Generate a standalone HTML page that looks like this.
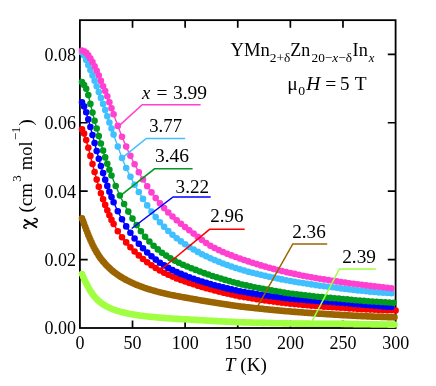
<!DOCTYPE html>
<html><head><meta charset="utf-8"><style>html,body{margin:0;padding:0;background:#fff}svg{display:block;will-change:transform;opacity:.999}text{font-family:"Liberation Serif",serif;fill:#000}</style></head><body>
<svg width="436" height="386" viewBox="0 0 436 386">
<rect width="436" height="386" fill="#fff"/>
<path d="M132.52 328.0 v-7.6 M132.52 20.15 v7.6 M185.13 328.0 v-7.6 M185.13 20.15 v7.6 M237.75 328.0 v-7.6 M237.75 20.15 v7.6 M290.37 328.0 v-7.6 M290.37 20.15 v7.6 M342.98 328.0 v-7.6 M342.98 20.15 v7.6 M79.9 259.59 h7.8 M395.6 259.59 h-7.8 M79.9 191.18 h7.8 M395.6 191.18 h-7.8 M79.9 122.77 h7.8 M395.6 122.77 h-7.8 M79.9 54.36 h7.8 M395.6 54.36 h-7.8" stroke="#000" stroke-width="1.7" fill="none"/>
<rect x="79.9" y="20.15" width="315.70" height="307.85" fill="none" stroke="#000" stroke-width="1.8"/>
<g fill="#a0ff40" stroke="#a0ff40"><path d="M82.0 274.1 L83.1 276.5 L84.1 278.9 L85.2 281.2 L86.2 283.4 L87.3 285.4 L88.3 287.4 L89.4 289.2 L90.4 291.0 L91.5 292.6 L92.5 294.1 L93.6 295.5 L94.6 296.8 L95.7 298.0 L96.7 299.1 L97.8 300.2 L98.8 301.1 L99.9 302.0 L100.9 302.8 L102.0 303.6 L103.1 304.3 L104.1 305.0 L105.2 305.6 L106.2 306.2 L107.3 306.8 L108.3 307.3 L109.4 307.8 L110.4 308.3 L111.5 308.7 L112.5 309.2 L113.6 309.6 L114.6 309.9 L115.7 310.3 L116.7 310.7 L117.8 311.0 L118.8 311.3 L119.9 311.6 L120.9 311.9 L122.0 312.2 L123.0 312.4 L124.1 312.7 L125.2 312.9 L126.2 313.2 L127.3 313.4 L128.3 313.6 L129.4 313.8 L130.4 314.0 L131.5 314.2 L132.5 314.4 L133.6 314.6 L134.6 314.8 L135.7 314.9 L136.7 315.1 L137.8 315.3 L138.8 315.4 L139.9 315.6 L140.9 315.7 L142.0 315.8 L143.0 316.0 L144.1 316.1 L145.1 316.2 L146.2 316.3 L147.2 316.5 L148.3 316.6 L149.4 316.7 L150.4 316.8 L151.5 316.9 L152.5 317.0 L153.6 317.1 L154.6 317.2 L155.7 317.3 L156.7 317.4 L157.8 317.5 L158.8 317.6 L159.9 317.7 L160.9 317.8 L162.0 317.8 L163.0 317.9 L164.1 318.0 L165.1 318.1 L166.2 318.2 L167.2 318.2 L168.3 318.3 L169.3 318.4 L170.4 318.5 L171.5 318.5 L172.5 318.6 L173.6 318.7 L174.6 318.7 L175.7 318.8 L176.7 318.9 L177.8 318.9 L178.8 319.0 L179.9 319.0 L180.9 319.1 L182.0 319.2 L183.0 319.2 L184.1 319.3 L185.1 319.3 L186.2 319.4 L187.2 319.4 L188.3 319.5 L189.3 319.5 L190.4 319.6 L191.4 319.7 L192.5 319.7 L193.6 319.8 L194.6 319.9 L195.7 319.9 L196.7 320.0 L197.8 320.1 L198.8 320.1 L199.9 320.2 L200.9 320.3 L202.0 320.3 L203.0 320.4 L204.1 320.4 L205.1 320.5 L206.2 320.6 L207.2 320.6 L208.3 320.7 L209.3 320.7 L210.4 320.8 L211.4 320.9 L212.5 320.9 L213.5 321.0 L214.6 321.0 L215.7 321.1 L216.7 321.1 L217.8 321.2 L218.8 321.3 L219.9 321.3 L220.9 321.4 L222.0 321.4 L223.0 321.5 L224.1 321.5 L225.1 321.6 L226.2 321.6 L227.2 321.7 L228.3 321.7 L229.3 321.8 L230.4 321.8 L231.4 321.9 L232.5 321.9 L233.5 322.0 L234.6 322.0 L235.6 322.1 L236.7 322.1 L237.8 322.2 L238.8 322.2 L239.9 322.3 L240.9 322.3 L242.0 322.3 L243.0 322.4 L244.1 322.4 L245.1 322.4 L246.2 322.5 L247.2 322.5 L248.3 322.5 L249.3 322.5 L250.4 322.6 L251.4 322.6 L252.5 322.6 L253.5 322.7 L254.6 322.7 L255.6 322.7 L256.7 322.7 L257.7 322.8 L258.8 322.8 L259.8 322.8 L260.9 322.8 L262.0 322.9 L263.0 322.9 L264.1 322.9 L265.1 322.9 L266.2 323.0 L267.2 323.0 L268.3 323.0 L269.3 323.0 L270.4 323.1 L271.4 323.1 L272.5 323.1 L273.5 323.1 L274.6 323.2 L275.6 323.2 L276.7 323.2 L277.7 323.2 L278.8 323.3 L279.8 323.3 L280.9 323.3 L281.9 323.3 L283.0 323.4 L284.1 323.4 L285.1 323.4 L286.2 323.4 L287.2 323.4 L288.3 323.5 L289.3 323.5 L290.4 323.5 L291.4 323.5 L292.5 323.5 L293.5 323.5 L294.6 323.5 L295.6 323.6 L296.7 323.6 L297.7 323.6 L298.8 323.6 L299.8 323.6 L300.9 323.6 L301.9 323.6 L303.0 323.6 L304.0 323.6 L305.1 323.6 L306.2 323.6 L307.2 323.6 L308.3 323.6 L309.3 323.6 L310.4 323.7 L311.4 323.7 L312.5 323.7 L313.5 323.7 L314.6 323.7 L315.6 323.7 L316.7 323.7 L317.7 323.7 L318.8 323.7 L319.8 323.7 L320.9 323.7 L321.9 323.7 L323.0 323.7 L324.0 323.7 L325.1 323.7 L326.1 323.7 L327.2 323.7 L328.3 323.8 L329.3 323.8 L330.4 323.8 L331.4 323.8 L332.5 323.8 L333.5 323.8 L334.6 323.8 L335.6 323.8 L336.7 323.8 L337.7 323.8 L338.8 323.8 L339.8 323.8 L340.9 323.8 L341.9 323.9 L343.0 323.9 L344.0 323.9 L345.1 323.9 L346.1 323.9 L347.2 323.9 L348.2 324.0 L349.3 324.0 L350.3 324.0 L351.4 324.0 L352.5 324.0 L353.5 324.1 L354.6 324.1 L355.6 324.1 L356.7 324.1 L357.7 324.1 L358.8 324.1 L359.8 324.2 L360.9 324.2 L361.9 324.2 L363.0 324.2 L364.0 324.2 L365.1 324.3 L366.1 324.3 L367.2 324.3 L368.2 324.3 L369.3 324.3 L370.3 324.3 L371.4 324.4 L372.4 324.4 L373.5 324.4 L374.6 324.4 L375.6 324.4 L376.7 324.4 L377.7 324.4 L378.8 324.4 L379.8 324.5 L380.9 324.5 L381.9 324.5 L383.0 324.5 L384.0 324.5 L385.1 324.5 L386.1 324.5 L387.2 324.5 L388.2 324.6 L389.3 324.6 L390.3 324.6 L391.4 324.6 L392.4 324.6 L393.5 324.6 L394.5 324.6" fill="none" stroke-width="1.4"/>
<path d="M78.7 274.1a3.3 3.3 0 1 0 6.6 0a3.3 3.3 0 1 0 -6.6 0zM79.8 276.5a3.3 3.3 0 1 0 6.6 0a3.3 3.3 0 1 0 -6.6 0zM80.8 278.9a3.3 3.3 0 1 0 6.6 0a3.3 3.3 0 1 0 -6.6 0zM81.9 281.2a3.3 3.3 0 1 0 6.6 0a3.3 3.3 0 1 0 -6.6 0zM82.9 283.4a3.3 3.3 0 1 0 6.6 0a3.3 3.3 0 1 0 -6.6 0zM84.0 285.4a3.3 3.3 0 1 0 6.6 0a3.3 3.3 0 1 0 -6.6 0zM85.0 287.4a3.3 3.3 0 1 0 6.6 0a3.3 3.3 0 1 0 -6.6 0zM86.1 289.2a3.3 3.3 0 1 0 6.6 0a3.3 3.3 0 1 0 -6.6 0zM87.1 291.0a3.3 3.3 0 1 0 6.6 0a3.3 3.3 0 1 0 -6.6 0zM88.2 292.6a3.3 3.3 0 1 0 6.6 0a3.3 3.3 0 1 0 -6.6 0zM89.2 294.1a3.3 3.3 0 1 0 6.6 0a3.3 3.3 0 1 0 -6.6 0zM90.3 295.5a3.3 3.3 0 1 0 6.6 0a3.3 3.3 0 1 0 -6.6 0zM91.3 296.8a3.3 3.3 0 1 0 6.6 0a3.3 3.3 0 1 0 -6.6 0zM92.4 298.0a3.3 3.3 0 1 0 6.6 0a3.3 3.3 0 1 0 -6.6 0zM93.4 299.1a3.3 3.3 0 1 0 6.6 0a3.3 3.3 0 1 0 -6.6 0zM94.5 300.2a3.3 3.3 0 1 0 6.6 0a3.3 3.3 0 1 0 -6.6 0zM95.5 301.1a3.3 3.3 0 1 0 6.6 0a3.3 3.3 0 1 0 -6.6 0zM96.6 302.0a3.3 3.3 0 1 0 6.6 0a3.3 3.3 0 1 0 -6.6 0zM97.6 302.8a3.3 3.3 0 1 0 6.6 0a3.3 3.3 0 1 0 -6.6 0zM98.7 303.6a3.3 3.3 0 1 0 6.6 0a3.3 3.3 0 1 0 -6.6 0zM99.8 304.3a3.3 3.3 0 1 0 6.6 0a3.3 3.3 0 1 0 -6.6 0zM100.8 305.0a3.3 3.3 0 1 0 6.6 0a3.3 3.3 0 1 0 -6.6 0zM101.9 305.6a3.3 3.3 0 1 0 6.6 0a3.3 3.3 0 1 0 -6.6 0zM102.9 306.2a3.3 3.3 0 1 0 6.6 0a3.3 3.3 0 1 0 -6.6 0zM104.0 306.8a3.3 3.3 0 1 0 6.6 0a3.3 3.3 0 1 0 -6.6 0zM105.0 307.3a3.3 3.3 0 1 0 6.6 0a3.3 3.3 0 1 0 -6.6 0zM106.1 307.8a3.3 3.3 0 1 0 6.6 0a3.3 3.3 0 1 0 -6.6 0zM107.1 308.3a3.3 3.3 0 1 0 6.6 0a3.3 3.3 0 1 0 -6.6 0zM108.2 308.7a3.3 3.3 0 1 0 6.6 0a3.3 3.3 0 1 0 -6.6 0zM109.2 309.2a3.3 3.3 0 1 0 6.6 0a3.3 3.3 0 1 0 -6.6 0zM110.3 309.6a3.3 3.3 0 1 0 6.6 0a3.3 3.3 0 1 0 -6.6 0zM111.3 309.9a3.3 3.3 0 1 0 6.6 0a3.3 3.3 0 1 0 -6.6 0zM112.4 310.3a3.3 3.3 0 1 0 6.6 0a3.3 3.3 0 1 0 -6.6 0zM113.4 310.7a3.3 3.3 0 1 0 6.6 0a3.3 3.3 0 1 0 -6.6 0zM114.5 311.0a3.3 3.3 0 1 0 6.6 0a3.3 3.3 0 1 0 -6.6 0zM115.5 311.3a3.3 3.3 0 1 0 6.6 0a3.3 3.3 0 1 0 -6.6 0zM116.6 311.6a3.3 3.3 0 1 0 6.6 0a3.3 3.3 0 1 0 -6.6 0zM117.6 311.9a3.3 3.3 0 1 0 6.6 0a3.3 3.3 0 1 0 -6.6 0zM118.7 312.2a3.3 3.3 0 1 0 6.6 0a3.3 3.3 0 1 0 -6.6 0zM119.7 312.4a3.3 3.3 0 1 0 6.6 0a3.3 3.3 0 1 0 -6.6 0zM120.8 312.7a3.3 3.3 0 1 0 6.6 0a3.3 3.3 0 1 0 -6.6 0zM121.9 312.9a3.3 3.3 0 1 0 6.6 0a3.3 3.3 0 1 0 -6.6 0zM122.9 313.2a3.3 3.3 0 1 0 6.6 0a3.3 3.3 0 1 0 -6.6 0zM124.0 313.4a3.3 3.3 0 1 0 6.6 0a3.3 3.3 0 1 0 -6.6 0zM125.0 313.6a3.3 3.3 0 1 0 6.6 0a3.3 3.3 0 1 0 -6.6 0zM126.1 313.8a3.3 3.3 0 1 0 6.6 0a3.3 3.3 0 1 0 -6.6 0zM127.1 314.0a3.3 3.3 0 1 0 6.6 0a3.3 3.3 0 1 0 -6.6 0zM128.2 314.2a3.3 3.3 0 1 0 6.6 0a3.3 3.3 0 1 0 -6.6 0zM129.2 314.4a3.3 3.3 0 1 0 6.6 0a3.3 3.3 0 1 0 -6.6 0zM130.3 314.6a3.3 3.3 0 1 0 6.6 0a3.3 3.3 0 1 0 -6.6 0zM131.3 314.8a3.3 3.3 0 1 0 6.6 0a3.3 3.3 0 1 0 -6.6 0zM132.4 314.9a3.3 3.3 0 1 0 6.6 0a3.3 3.3 0 1 0 -6.6 0zM133.4 315.1a3.3 3.3 0 1 0 6.6 0a3.3 3.3 0 1 0 -6.6 0zM134.5 315.3a3.3 3.3 0 1 0 6.6 0a3.3 3.3 0 1 0 -6.6 0zM135.5 315.4a3.3 3.3 0 1 0 6.6 0a3.3 3.3 0 1 0 -6.6 0zM136.6 315.6a3.3 3.3 0 1 0 6.6 0a3.3 3.3 0 1 0 -6.6 0zM137.6 315.7a3.3 3.3 0 1 0 6.6 0a3.3 3.3 0 1 0 -6.6 0zM138.7 315.8a3.3 3.3 0 1 0 6.6 0a3.3 3.3 0 1 0 -6.6 0zM139.7 316.0a3.3 3.3 0 1 0 6.6 0a3.3 3.3 0 1 0 -6.6 0zM140.8 316.1a3.3 3.3 0 1 0 6.6 0a3.3 3.3 0 1 0 -6.6 0zM141.8 316.2a3.3 3.3 0 1 0 6.6 0a3.3 3.3 0 1 0 -6.6 0zM142.9 316.3a3.3 3.3 0 1 0 6.6 0a3.3 3.3 0 1 0 -6.6 0zM143.9 316.5a3.3 3.3 0 1 0 6.6 0a3.3 3.3 0 1 0 -6.6 0zM145.0 316.6a3.3 3.3 0 1 0 6.6 0a3.3 3.3 0 1 0 -6.6 0zM146.1 316.7a3.3 3.3 0 1 0 6.6 0a3.3 3.3 0 1 0 -6.6 0zM147.1 316.8a3.3 3.3 0 1 0 6.6 0a3.3 3.3 0 1 0 -6.6 0zM148.2 316.9a3.3 3.3 0 1 0 6.6 0a3.3 3.3 0 1 0 -6.6 0zM149.2 317.0a3.3 3.3 0 1 0 6.6 0a3.3 3.3 0 1 0 -6.6 0zM150.3 317.1a3.3 3.3 0 1 0 6.6 0a3.3 3.3 0 1 0 -6.6 0zM151.3 317.2a3.3 3.3 0 1 0 6.6 0a3.3 3.3 0 1 0 -6.6 0zM152.4 317.3a3.3 3.3 0 1 0 6.6 0a3.3 3.3 0 1 0 -6.6 0zM153.4 317.4a3.3 3.3 0 1 0 6.6 0a3.3 3.3 0 1 0 -6.6 0zM154.5 317.5a3.3 3.3 0 1 0 6.6 0a3.3 3.3 0 1 0 -6.6 0zM155.5 317.6a3.3 3.3 0 1 0 6.6 0a3.3 3.3 0 1 0 -6.6 0zM156.6 317.7a3.3 3.3 0 1 0 6.6 0a3.3 3.3 0 1 0 -6.6 0zM157.6 317.8a3.3 3.3 0 1 0 6.6 0a3.3 3.3 0 1 0 -6.6 0zM158.7 317.8a3.3 3.3 0 1 0 6.6 0a3.3 3.3 0 1 0 -6.6 0zM159.7 317.9a3.3 3.3 0 1 0 6.6 0a3.3 3.3 0 1 0 -6.6 0zM160.8 318.0a3.3 3.3 0 1 0 6.6 0a3.3 3.3 0 1 0 -6.6 0zM161.8 318.1a3.3 3.3 0 1 0 6.6 0a3.3 3.3 0 1 0 -6.6 0zM162.9 318.2a3.3 3.3 0 1 0 6.6 0a3.3 3.3 0 1 0 -6.6 0zM163.9 318.2a3.3 3.3 0 1 0 6.6 0a3.3 3.3 0 1 0 -6.6 0zM165.0 318.3a3.3 3.3 0 1 0 6.6 0a3.3 3.3 0 1 0 -6.6 0zM166.0 318.4a3.3 3.3 0 1 0 6.6 0a3.3 3.3 0 1 0 -6.6 0zM167.1 318.5a3.3 3.3 0 1 0 6.6 0a3.3 3.3 0 1 0 -6.6 0zM168.2 318.5a3.3 3.3 0 1 0 6.6 0a3.3 3.3 0 1 0 -6.6 0zM169.2 318.6a3.3 3.3 0 1 0 6.6 0a3.3 3.3 0 1 0 -6.6 0zM170.3 318.7a3.3 3.3 0 1 0 6.6 0a3.3 3.3 0 1 0 -6.6 0zM171.3 318.7a3.3 3.3 0 1 0 6.6 0a3.3 3.3 0 1 0 -6.6 0zM172.4 318.8a3.3 3.3 0 1 0 6.6 0a3.3 3.3 0 1 0 -6.6 0zM173.4 318.9a3.3 3.3 0 1 0 6.6 0a3.3 3.3 0 1 0 -6.6 0zM174.5 318.9a3.3 3.3 0 1 0 6.6 0a3.3 3.3 0 1 0 -6.6 0zM175.5 319.0a3.3 3.3 0 1 0 6.6 0a3.3 3.3 0 1 0 -6.6 0zM176.6 319.0a3.3 3.3 0 1 0 6.6 0a3.3 3.3 0 1 0 -6.6 0zM177.6 319.1a3.3 3.3 0 1 0 6.6 0a3.3 3.3 0 1 0 -6.6 0zM178.7 319.2a3.3 3.3 0 1 0 6.6 0a3.3 3.3 0 1 0 -6.6 0zM179.7 319.2a3.3 3.3 0 1 0 6.6 0a3.3 3.3 0 1 0 -6.6 0zM180.8 319.3a3.3 3.3 0 1 0 6.6 0a3.3 3.3 0 1 0 -6.6 0zM181.8 319.3a3.3 3.3 0 1 0 6.6 0a3.3 3.3 0 1 0 -6.6 0zM182.9 319.4a3.3 3.3 0 1 0 6.6 0a3.3 3.3 0 1 0 -6.6 0zM183.9 319.4a3.3 3.3 0 1 0 6.6 0a3.3 3.3 0 1 0 -6.6 0zM185.0 319.5a3.3 3.3 0 1 0 6.6 0a3.3 3.3 0 1 0 -6.6 0zM186.0 319.5a3.3 3.3 0 1 0 6.6 0a3.3 3.3 0 1 0 -6.6 0zM187.1 319.6a3.3 3.3 0 1 0 6.6 0a3.3 3.3 0 1 0 -6.6 0zM188.1 319.7a3.3 3.3 0 1 0 6.6 0a3.3 3.3 0 1 0 -6.6 0zM189.2 319.7a3.3 3.3 0 1 0 6.6 0a3.3 3.3 0 1 0 -6.6 0zM190.3 319.8a3.3 3.3 0 1 0 6.6 0a3.3 3.3 0 1 0 -6.6 0zM191.3 319.9a3.3 3.3 0 1 0 6.6 0a3.3 3.3 0 1 0 -6.6 0zM192.4 319.9a3.3 3.3 0 1 0 6.6 0a3.3 3.3 0 1 0 -6.6 0zM193.4 320.0a3.3 3.3 0 1 0 6.6 0a3.3 3.3 0 1 0 -6.6 0zM194.5 320.1a3.3 3.3 0 1 0 6.6 0a3.3 3.3 0 1 0 -6.6 0zM195.5 320.1a3.3 3.3 0 1 0 6.6 0a3.3 3.3 0 1 0 -6.6 0zM196.6 320.2a3.3 3.3 0 1 0 6.6 0a3.3 3.3 0 1 0 -6.6 0zM197.6 320.3a3.3 3.3 0 1 0 6.6 0a3.3 3.3 0 1 0 -6.6 0zM198.7 320.3a3.3 3.3 0 1 0 6.6 0a3.3 3.3 0 1 0 -6.6 0zM199.7 320.4a3.3 3.3 0 1 0 6.6 0a3.3 3.3 0 1 0 -6.6 0zM200.8 320.4a3.3 3.3 0 1 0 6.6 0a3.3 3.3 0 1 0 -6.6 0zM201.8 320.5a3.3 3.3 0 1 0 6.6 0a3.3 3.3 0 1 0 -6.6 0zM202.9 320.6a3.3 3.3 0 1 0 6.6 0a3.3 3.3 0 1 0 -6.6 0zM203.9 320.6a3.3 3.3 0 1 0 6.6 0a3.3 3.3 0 1 0 -6.6 0zM205.0 320.7a3.3 3.3 0 1 0 6.6 0a3.3 3.3 0 1 0 -6.6 0zM206.0 320.7a3.3 3.3 0 1 0 6.6 0a3.3 3.3 0 1 0 -6.6 0zM207.1 320.8a3.3 3.3 0 1 0 6.6 0a3.3 3.3 0 1 0 -6.6 0zM208.1 320.9a3.3 3.3 0 1 0 6.6 0a3.3 3.3 0 1 0 -6.6 0zM209.2 320.9a3.3 3.3 0 1 0 6.6 0a3.3 3.3 0 1 0 -6.6 0zM210.2 321.0a3.3 3.3 0 1 0 6.6 0a3.3 3.3 0 1 0 -6.6 0zM211.3 321.0a3.3 3.3 0 1 0 6.6 0a3.3 3.3 0 1 0 -6.6 0zM212.4 321.1a3.3 3.3 0 1 0 6.6 0a3.3 3.3 0 1 0 -6.6 0zM213.4 321.1a3.3 3.3 0 1 0 6.6 0a3.3 3.3 0 1 0 -6.6 0zM214.5 321.2a3.3 3.3 0 1 0 6.6 0a3.3 3.3 0 1 0 -6.6 0zM215.5 321.3a3.3 3.3 0 1 0 6.6 0a3.3 3.3 0 1 0 -6.6 0zM216.6 321.3a3.3 3.3 0 1 0 6.6 0a3.3 3.3 0 1 0 -6.6 0zM217.6 321.4a3.3 3.3 0 1 0 6.6 0a3.3 3.3 0 1 0 -6.6 0zM218.7 321.4a3.3 3.3 0 1 0 6.6 0a3.3 3.3 0 1 0 -6.6 0zM219.7 321.5a3.3 3.3 0 1 0 6.6 0a3.3 3.3 0 1 0 -6.6 0zM220.8 321.5a3.3 3.3 0 1 0 6.6 0a3.3 3.3 0 1 0 -6.6 0zM221.8 321.6a3.3 3.3 0 1 0 6.6 0a3.3 3.3 0 1 0 -6.6 0zM222.9 321.6a3.3 3.3 0 1 0 6.6 0a3.3 3.3 0 1 0 -6.6 0zM223.9 321.7a3.3 3.3 0 1 0 6.6 0a3.3 3.3 0 1 0 -6.6 0zM225.0 321.7a3.3 3.3 0 1 0 6.6 0a3.3 3.3 0 1 0 -6.6 0zM226.0 321.8a3.3 3.3 0 1 0 6.6 0a3.3 3.3 0 1 0 -6.6 0zM227.1 321.8a3.3 3.3 0 1 0 6.6 0a3.3 3.3 0 1 0 -6.6 0zM228.1 321.9a3.3 3.3 0 1 0 6.6 0a3.3 3.3 0 1 0 -6.6 0zM229.2 321.9a3.3 3.3 0 1 0 6.6 0a3.3 3.3 0 1 0 -6.6 0zM230.2 322.0a3.3 3.3 0 1 0 6.6 0a3.3 3.3 0 1 0 -6.6 0zM231.3 322.0a3.3 3.3 0 1 0 6.6 0a3.3 3.3 0 1 0 -6.6 0zM232.3 322.1a3.3 3.3 0 1 0 6.6 0a3.3 3.3 0 1 0 -6.6 0zM233.4 322.1a3.3 3.3 0 1 0 6.6 0a3.3 3.3 0 1 0 -6.6 0zM234.5 322.2a3.3 3.3 0 1 0 6.6 0a3.3 3.3 0 1 0 -6.6 0zM235.5 322.2a3.3 3.3 0 1 0 6.6 0a3.3 3.3 0 1 0 -6.6 0zM236.6 322.3a3.3 3.3 0 1 0 6.6 0a3.3 3.3 0 1 0 -6.6 0zM237.6 322.3a3.3 3.3 0 1 0 6.6 0a3.3 3.3 0 1 0 -6.6 0zM238.7 322.3a3.3 3.3 0 1 0 6.6 0a3.3 3.3 0 1 0 -6.6 0zM239.7 322.4a3.3 3.3 0 1 0 6.6 0a3.3 3.3 0 1 0 -6.6 0zM240.8 322.4a3.3 3.3 0 1 0 6.6 0a3.3 3.3 0 1 0 -6.6 0zM241.8 322.4a3.3 3.3 0 1 0 6.6 0a3.3 3.3 0 1 0 -6.6 0zM242.9 322.5a3.3 3.3 0 1 0 6.6 0a3.3 3.3 0 1 0 -6.6 0zM243.9 322.5a3.3 3.3 0 1 0 6.6 0a3.3 3.3 0 1 0 -6.6 0zM245.0 322.5a3.3 3.3 0 1 0 6.6 0a3.3 3.3 0 1 0 -6.6 0zM246.0 322.5a3.3 3.3 0 1 0 6.6 0a3.3 3.3 0 1 0 -6.6 0zM247.1 322.6a3.3 3.3 0 1 0 6.6 0a3.3 3.3 0 1 0 -6.6 0zM248.1 322.6a3.3 3.3 0 1 0 6.6 0a3.3 3.3 0 1 0 -6.6 0zM249.2 322.6a3.3 3.3 0 1 0 6.6 0a3.3 3.3 0 1 0 -6.6 0zM250.2 322.7a3.3 3.3 0 1 0 6.6 0a3.3 3.3 0 1 0 -6.6 0zM251.3 322.7a3.3 3.3 0 1 0 6.6 0a3.3 3.3 0 1 0 -6.6 0zM252.3 322.7a3.3 3.3 0 1 0 6.6 0a3.3 3.3 0 1 0 -6.6 0zM253.4 322.7a3.3 3.3 0 1 0 6.6 0a3.3 3.3 0 1 0 -6.6 0zM254.4 322.8a3.3 3.3 0 1 0 6.6 0a3.3 3.3 0 1 0 -6.6 0zM255.5 322.8a3.3 3.3 0 1 0 6.6 0a3.3 3.3 0 1 0 -6.6 0zM256.5 322.8a3.3 3.3 0 1 0 6.6 0a3.3 3.3 0 1 0 -6.6 0zM257.6 322.8a3.3 3.3 0 1 0 6.6 0a3.3 3.3 0 1 0 -6.6 0zM258.7 322.9a3.3 3.3 0 1 0 6.6 0a3.3 3.3 0 1 0 -6.6 0zM259.7 322.9a3.3 3.3 0 1 0 6.6 0a3.3 3.3 0 1 0 -6.6 0zM260.8 322.9a3.3 3.3 0 1 0 6.6 0a3.3 3.3 0 1 0 -6.6 0zM261.8 322.9a3.3 3.3 0 1 0 6.6 0a3.3 3.3 0 1 0 -6.6 0zM262.9 323.0a3.3 3.3 0 1 0 6.6 0a3.3 3.3 0 1 0 -6.6 0zM263.9 323.0a3.3 3.3 0 1 0 6.6 0a3.3 3.3 0 1 0 -6.6 0zM265.0 323.0a3.3 3.3 0 1 0 6.6 0a3.3 3.3 0 1 0 -6.6 0zM266.0 323.0a3.3 3.3 0 1 0 6.6 0a3.3 3.3 0 1 0 -6.6 0zM267.1 323.1a3.3 3.3 0 1 0 6.6 0a3.3 3.3 0 1 0 -6.6 0zM268.1 323.1a3.3 3.3 0 1 0 6.6 0a3.3 3.3 0 1 0 -6.6 0zM269.2 323.1a3.3 3.3 0 1 0 6.6 0a3.3 3.3 0 1 0 -6.6 0zM270.2 323.1a3.3 3.3 0 1 0 6.6 0a3.3 3.3 0 1 0 -6.6 0zM271.3 323.2a3.3 3.3 0 1 0 6.6 0a3.3 3.3 0 1 0 -6.6 0zM272.3 323.2a3.3 3.3 0 1 0 6.6 0a3.3 3.3 0 1 0 -6.6 0zM273.4 323.2a3.3 3.3 0 1 0 6.6 0a3.3 3.3 0 1 0 -6.6 0zM274.4 323.2a3.3 3.3 0 1 0 6.6 0a3.3 3.3 0 1 0 -6.6 0zM275.5 323.3a3.3 3.3 0 1 0 6.6 0a3.3 3.3 0 1 0 -6.6 0zM276.5 323.3a3.3 3.3 0 1 0 6.6 0a3.3 3.3 0 1 0 -6.6 0zM277.6 323.3a3.3 3.3 0 1 0 6.6 0a3.3 3.3 0 1 0 -6.6 0zM278.6 323.3a3.3 3.3 0 1 0 6.6 0a3.3 3.3 0 1 0 -6.6 0zM279.7 323.4a3.3 3.3 0 1 0 6.6 0a3.3 3.3 0 1 0 -6.6 0zM280.8 323.4a3.3 3.3 0 1 0 6.6 0a3.3 3.3 0 1 0 -6.6 0zM281.8 323.4a3.3 3.3 0 1 0 6.6 0a3.3 3.3 0 1 0 -6.6 0zM282.9 323.4a3.3 3.3 0 1 0 6.6 0a3.3 3.3 0 1 0 -6.6 0zM283.9 323.4a3.3 3.3 0 1 0 6.6 0a3.3 3.3 0 1 0 -6.6 0zM285.0 323.5a3.3 3.3 0 1 0 6.6 0a3.3 3.3 0 1 0 -6.6 0zM286.0 323.5a3.3 3.3 0 1 0 6.6 0a3.3 3.3 0 1 0 -6.6 0zM287.1 323.5a3.3 3.3 0 1 0 6.6 0a3.3 3.3 0 1 0 -6.6 0zM288.1 323.5a3.3 3.3 0 1 0 6.6 0a3.3 3.3 0 1 0 -6.6 0zM289.2 323.5a3.3 3.3 0 1 0 6.6 0a3.3 3.3 0 1 0 -6.6 0zM290.2 323.5a3.3 3.3 0 1 0 6.6 0a3.3 3.3 0 1 0 -6.6 0zM291.3 323.5a3.3 3.3 0 1 0 6.6 0a3.3 3.3 0 1 0 -6.6 0zM292.3 323.6a3.3 3.3 0 1 0 6.6 0a3.3 3.3 0 1 0 -6.6 0zM293.4 323.6a3.3 3.3 0 1 0 6.6 0a3.3 3.3 0 1 0 -6.6 0zM294.4 323.6a3.3 3.3 0 1 0 6.6 0a3.3 3.3 0 1 0 -6.6 0zM295.5 323.6a3.3 3.3 0 1 0 6.6 0a3.3 3.3 0 1 0 -6.6 0zM296.5 323.6a3.3 3.3 0 1 0 6.6 0a3.3 3.3 0 1 0 -6.6 0zM297.6 323.6a3.3 3.3 0 1 0 6.6 0a3.3 3.3 0 1 0 -6.6 0zM298.6 323.6a3.3 3.3 0 1 0 6.6 0a3.3 3.3 0 1 0 -6.6 0zM299.7 323.6a3.3 3.3 0 1 0 6.6 0a3.3 3.3 0 1 0 -6.6 0zM300.7 323.6a3.3 3.3 0 1 0 6.6 0a3.3 3.3 0 1 0 -6.6 0zM301.8 323.6a3.3 3.3 0 1 0 6.6 0a3.3 3.3 0 1 0 -6.6 0zM302.9 323.6a3.3 3.3 0 1 0 6.6 0a3.3 3.3 0 1 0 -6.6 0zM303.9 323.6a3.3 3.3 0 1 0 6.6 0a3.3 3.3 0 1 0 -6.6 0zM305.0 323.6a3.3 3.3 0 1 0 6.6 0a3.3 3.3 0 1 0 -6.6 0zM306.0 323.6a3.3 3.3 0 1 0 6.6 0a3.3 3.3 0 1 0 -6.6 0zM307.1 323.7a3.3 3.3 0 1 0 6.6 0a3.3 3.3 0 1 0 -6.6 0zM308.1 323.7a3.3 3.3 0 1 0 6.6 0a3.3 3.3 0 1 0 -6.6 0zM309.2 323.7a3.3 3.3 0 1 0 6.6 0a3.3 3.3 0 1 0 -6.6 0zM310.2 323.7a3.3 3.3 0 1 0 6.6 0a3.3 3.3 0 1 0 -6.6 0zM311.3 323.7a3.3 3.3 0 1 0 6.6 0a3.3 3.3 0 1 0 -6.6 0zM312.3 323.7a3.3 3.3 0 1 0 6.6 0a3.3 3.3 0 1 0 -6.6 0zM313.4 323.7a3.3 3.3 0 1 0 6.6 0a3.3 3.3 0 1 0 -6.6 0zM314.4 323.7a3.3 3.3 0 1 0 6.6 0a3.3 3.3 0 1 0 -6.6 0zM315.5 323.7a3.3 3.3 0 1 0 6.6 0a3.3 3.3 0 1 0 -6.6 0zM316.5 323.7a3.3 3.3 0 1 0 6.6 0a3.3 3.3 0 1 0 -6.6 0zM317.6 323.7a3.3 3.3 0 1 0 6.6 0a3.3 3.3 0 1 0 -6.6 0zM318.6 323.7a3.3 3.3 0 1 0 6.6 0a3.3 3.3 0 1 0 -6.6 0zM319.7 323.7a3.3 3.3 0 1 0 6.6 0a3.3 3.3 0 1 0 -6.6 0zM320.7 323.7a3.3 3.3 0 1 0 6.6 0a3.3 3.3 0 1 0 -6.6 0zM321.8 323.7a3.3 3.3 0 1 0 6.6 0a3.3 3.3 0 1 0 -6.6 0zM322.8 323.7a3.3 3.3 0 1 0 6.6 0a3.3 3.3 0 1 0 -6.6 0zM323.9 323.7a3.3 3.3 0 1 0 6.6 0a3.3 3.3 0 1 0 -6.6 0zM325.0 323.8a3.3 3.3 0 1 0 6.6 0a3.3 3.3 0 1 0 -6.6 0zM326.0 323.8a3.3 3.3 0 1 0 6.6 0a3.3 3.3 0 1 0 -6.6 0zM327.1 323.8a3.3 3.3 0 1 0 6.6 0a3.3 3.3 0 1 0 -6.6 0zM328.1 323.8a3.3 3.3 0 1 0 6.6 0a3.3 3.3 0 1 0 -6.6 0zM329.2 323.8a3.3 3.3 0 1 0 6.6 0a3.3 3.3 0 1 0 -6.6 0zM330.2 323.8a3.3 3.3 0 1 0 6.6 0a3.3 3.3 0 1 0 -6.6 0zM331.3 323.8a3.3 3.3 0 1 0 6.6 0a3.3 3.3 0 1 0 -6.6 0zM332.3 323.8a3.3 3.3 0 1 0 6.6 0a3.3 3.3 0 1 0 -6.6 0zM333.4 323.8a3.3 3.3 0 1 0 6.6 0a3.3 3.3 0 1 0 -6.6 0zM334.4 323.8a3.3 3.3 0 1 0 6.6 0a3.3 3.3 0 1 0 -6.6 0zM335.5 323.8a3.3 3.3 0 1 0 6.6 0a3.3 3.3 0 1 0 -6.6 0zM336.5 323.8a3.3 3.3 0 1 0 6.6 0a3.3 3.3 0 1 0 -6.6 0zM337.6 323.8a3.3 3.3 0 1 0 6.6 0a3.3 3.3 0 1 0 -6.6 0zM338.6 323.9a3.3 3.3 0 1 0 6.6 0a3.3 3.3 0 1 0 -6.6 0zM339.7 323.9a3.3 3.3 0 1 0 6.6 0a3.3 3.3 0 1 0 -6.6 0zM340.7 323.9a3.3 3.3 0 1 0 6.6 0a3.3 3.3 0 1 0 -6.6 0zM341.8 323.9a3.3 3.3 0 1 0 6.6 0a3.3 3.3 0 1 0 -6.6 0zM342.8 323.9a3.3 3.3 0 1 0 6.6 0a3.3 3.3 0 1 0 -6.6 0zM343.9 323.9a3.3 3.3 0 1 0 6.6 0a3.3 3.3 0 1 0 -6.6 0zM344.9 324.0a3.3 3.3 0 1 0 6.6 0a3.3 3.3 0 1 0 -6.6 0zM346.0 324.0a3.3 3.3 0 1 0 6.6 0a3.3 3.3 0 1 0 -6.6 0zM347.0 324.0a3.3 3.3 0 1 0 6.6 0a3.3 3.3 0 1 0 -6.6 0zM348.1 324.0a3.3 3.3 0 1 0 6.6 0a3.3 3.3 0 1 0 -6.6 0zM349.2 324.0a3.3 3.3 0 1 0 6.6 0a3.3 3.3 0 1 0 -6.6 0zM350.2 324.1a3.3 3.3 0 1 0 6.6 0a3.3 3.3 0 1 0 -6.6 0zM351.3 324.1a3.3 3.3 0 1 0 6.6 0a3.3 3.3 0 1 0 -6.6 0zM352.3 324.1a3.3 3.3 0 1 0 6.6 0a3.3 3.3 0 1 0 -6.6 0zM353.4 324.1a3.3 3.3 0 1 0 6.6 0a3.3 3.3 0 1 0 -6.6 0zM354.4 324.1a3.3 3.3 0 1 0 6.6 0a3.3 3.3 0 1 0 -6.6 0zM355.5 324.1a3.3 3.3 0 1 0 6.6 0a3.3 3.3 0 1 0 -6.6 0zM356.5 324.2a3.3 3.3 0 1 0 6.6 0a3.3 3.3 0 1 0 -6.6 0zM357.6 324.2a3.3 3.3 0 1 0 6.6 0a3.3 3.3 0 1 0 -6.6 0zM358.6 324.2a3.3 3.3 0 1 0 6.6 0a3.3 3.3 0 1 0 -6.6 0zM359.7 324.2a3.3 3.3 0 1 0 6.6 0a3.3 3.3 0 1 0 -6.6 0zM360.7 324.2a3.3 3.3 0 1 0 6.6 0a3.3 3.3 0 1 0 -6.6 0zM361.8 324.3a3.3 3.3 0 1 0 6.6 0a3.3 3.3 0 1 0 -6.6 0zM362.8 324.3a3.3 3.3 0 1 0 6.6 0a3.3 3.3 0 1 0 -6.6 0zM363.9 324.3a3.3 3.3 0 1 0 6.6 0a3.3 3.3 0 1 0 -6.6 0zM364.9 324.3a3.3 3.3 0 1 0 6.6 0a3.3 3.3 0 1 0 -6.6 0zM366.0 324.3a3.3 3.3 0 1 0 6.6 0a3.3 3.3 0 1 0 -6.6 0zM367.0 324.3a3.3 3.3 0 1 0 6.6 0a3.3 3.3 0 1 0 -6.6 0zM368.1 324.4a3.3 3.3 0 1 0 6.6 0a3.3 3.3 0 1 0 -6.6 0zM369.1 324.4a3.3 3.3 0 1 0 6.6 0a3.3 3.3 0 1 0 -6.6 0zM370.2 324.4a3.3 3.3 0 1 0 6.6 0a3.3 3.3 0 1 0 -6.6 0zM371.3 324.4a3.3 3.3 0 1 0 6.6 0a3.3 3.3 0 1 0 -6.6 0zM372.3 324.4a3.3 3.3 0 1 0 6.6 0a3.3 3.3 0 1 0 -6.6 0zM373.4 324.4a3.3 3.3 0 1 0 6.6 0a3.3 3.3 0 1 0 -6.6 0zM374.4 324.4a3.3 3.3 0 1 0 6.6 0a3.3 3.3 0 1 0 -6.6 0zM375.5 324.4a3.3 3.3 0 1 0 6.6 0a3.3 3.3 0 1 0 -6.6 0zM376.5 324.5a3.3 3.3 0 1 0 6.6 0a3.3 3.3 0 1 0 -6.6 0zM377.6 324.5a3.3 3.3 0 1 0 6.6 0a3.3 3.3 0 1 0 -6.6 0zM378.6 324.5a3.3 3.3 0 1 0 6.6 0a3.3 3.3 0 1 0 -6.6 0zM379.7 324.5a3.3 3.3 0 1 0 6.6 0a3.3 3.3 0 1 0 -6.6 0zM380.7 324.5a3.3 3.3 0 1 0 6.6 0a3.3 3.3 0 1 0 -6.6 0zM381.8 324.5a3.3 3.3 0 1 0 6.6 0a3.3 3.3 0 1 0 -6.6 0zM382.8 324.5a3.3 3.3 0 1 0 6.6 0a3.3 3.3 0 1 0 -6.6 0zM383.9 324.5a3.3 3.3 0 1 0 6.6 0a3.3 3.3 0 1 0 -6.6 0zM384.9 324.6a3.3 3.3 0 1 0 6.6 0a3.3 3.3 0 1 0 -6.6 0zM386.0 324.6a3.3 3.3 0 1 0 6.6 0a3.3 3.3 0 1 0 -6.6 0zM387.0 324.6a3.3 3.3 0 1 0 6.6 0a3.3 3.3 0 1 0 -6.6 0zM388.1 324.6a3.3 3.3 0 1 0 6.6 0a3.3 3.3 0 1 0 -6.6 0zM389.1 324.6a3.3 3.3 0 1 0 6.6 0a3.3 3.3 0 1 0 -6.6 0zM390.2 324.6a3.3 3.3 0 1 0 6.6 0a3.3 3.3 0 1 0 -6.6 0zM391.2 324.6a3.3 3.3 0 1 0 6.6 0a3.3 3.3 0 1 0 -6.6 0z" stroke="none"/></g>
<g fill="#9a6400" stroke="#9a6400"><path d="M82.0 218.4 L83.1 221.1 L84.1 223.9 L85.2 226.7 L86.2 229.5 L87.3 232.2 L88.3 234.9 L89.4 237.5 L90.4 239.9 L91.5 242.3 L92.5 244.6 L93.6 246.7 L94.6 248.7 L95.7 250.6 L96.7 252.4 L97.8 254.1 L98.8 255.7 L99.9 257.3 L100.9 258.7 L102.0 260.1 L103.1 261.4 L104.1 262.6 L105.2 263.8 L106.2 265.0 L107.3 266.0 L108.3 267.1 L109.4 268.1 L110.4 269.0 L111.5 270.0 L112.5 270.9 L113.6 271.7 L114.6 272.5 L115.7 273.3 L116.7 274.1 L117.8 274.8 L118.8 275.6 L119.9 276.3 L120.9 276.9 L122.0 277.6 L123.0 278.2 L124.1 278.8 L125.2 279.4 L126.2 280.0 L127.3 280.5 L128.3 281.1 L129.4 281.6 L130.4 282.1 L131.5 282.6 L132.5 283.1 L133.6 283.6 L134.6 284.0 L135.7 284.5 L136.7 284.9 L137.8 285.3 L138.8 285.7 L139.9 286.1 L140.9 286.5 L142.0 286.9 L143.0 287.3 L144.1 287.7 L145.1 288.0 L146.2 288.4 L147.2 288.7 L148.3 289.1 L149.4 289.4 L150.4 289.7 L151.5 290.0 L152.5 290.3 L153.6 290.6 L154.6 290.9 L155.7 291.2 L156.7 291.5 L157.8 291.8 L158.8 292.1 L159.9 292.3 L160.9 292.6 L162.0 292.8 L163.0 293.1 L164.1 293.3 L165.1 293.6 L166.2 293.8 L167.2 294.1 L168.3 294.3 L169.3 294.5 L170.4 294.7 L171.5 295.0 L172.5 295.2 L173.6 295.4 L174.6 295.6 L175.7 295.8 L176.7 296.0 L177.8 296.2 L178.8 296.4 L179.9 296.6 L180.9 296.8 L182.0 297.0 L183.0 297.2 L184.1 297.4 L185.1 297.6 L186.2 297.7 L187.2 297.9 L188.3 298.1 L189.3 298.3 L190.4 298.5 L191.4 298.7 L192.5 298.9 L193.6 299.1 L194.6 299.2 L195.7 299.4 L196.7 299.6 L197.8 299.8 L198.8 300.0 L199.9 300.2 L200.9 300.4 L202.0 300.6 L203.0 300.7 L204.1 300.9 L205.1 301.1 L206.2 301.3 L207.2 301.4 L208.3 301.6 L209.3 301.8 L210.4 302.0 L211.4 302.1 L212.5 302.3 L213.5 302.5 L214.6 302.6 L215.7 302.8 L216.7 303.0 L217.8 303.1 L218.8 303.3 L219.9 303.5 L220.9 303.6 L222.0 303.8 L223.0 304.0 L224.1 304.1 L225.1 304.3 L226.2 304.4 L227.2 304.6 L228.3 304.8 L229.3 304.9 L230.4 305.1 L231.4 305.2 L232.5 305.4 L233.5 305.5 L234.6 305.7 L235.6 305.8 L236.7 306.0 L237.8 306.1 L238.8 306.3 L239.9 306.4 L240.9 306.6 L242.0 306.7 L243.0 306.8 L244.1 306.9 L245.1 307.0 L246.2 307.2 L247.2 307.3 L248.3 307.4 L249.3 307.5 L250.4 307.6 L251.4 307.7 L252.5 307.8 L253.5 308.0 L254.6 308.1 L255.6 308.2 L256.7 308.3 L257.7 308.4 L258.8 308.5 L259.8 308.6 L260.9 308.7 L262.0 308.8 L263.0 308.9 L264.1 309.1 L265.1 309.2 L266.2 309.3 L267.2 309.4 L268.3 309.5 L269.3 309.6 L270.4 309.7 L271.4 309.8 L272.5 309.9 L273.5 310.0 L274.6 310.1 L275.6 310.2 L276.7 310.3 L277.7 310.4 L278.8 310.5 L279.8 310.6 L280.9 310.7 L281.9 310.8 L283.0 310.9 L284.1 311.0 L285.1 311.1 L286.2 311.2 L287.2 311.2 L288.3 311.3 L289.3 311.4 L290.4 311.5 L291.4 311.6 L292.5 311.7 L293.5 311.8 L294.6 311.9 L295.6 311.9 L296.7 312.0 L297.7 312.1 L298.8 312.2 L299.8 312.3 L300.9 312.3 L301.9 312.4 L303.0 312.5 L304.0 312.6 L305.1 312.7 L306.2 312.7 L307.2 312.8 L308.3 312.9 L309.3 313.0 L310.4 313.0 L311.4 313.1 L312.5 313.2 L313.5 313.3 L314.6 313.3 L315.6 313.4 L316.7 313.5 L317.7 313.6 L318.8 313.6 L319.8 313.7 L320.9 313.8 L321.9 313.8 L323.0 313.9 L324.0 314.0 L325.1 314.0 L326.1 314.1 L327.2 314.2 L328.3 314.2 L329.3 314.3 L330.4 314.4 L331.4 314.4 L332.5 314.5 L333.5 314.6 L334.6 314.6 L335.6 314.7 L336.7 314.8 L337.7 314.8 L338.8 314.9 L339.8 314.9 L340.9 315.0 L341.9 315.1 L343.0 315.1 L344.0 315.2 L345.1 315.2 L346.1 315.3 L347.2 315.4 L348.2 315.4 L349.3 315.5 L350.3 315.5 L351.4 315.6 L352.5 315.6 L353.5 315.7 L354.6 315.8 L355.6 315.8 L356.7 315.9 L357.7 315.9 L358.8 316.0 L359.8 316.0 L360.9 316.1 L361.9 316.1 L363.0 316.2 L364.0 316.2 L365.1 316.3 L366.1 316.3 L367.2 316.4 L368.2 316.4 L369.3 316.5 L370.3 316.5 L371.4 316.6 L372.4 316.6 L373.5 316.6 L374.6 316.7 L375.6 316.7 L376.7 316.7 L377.7 316.8 L378.8 316.8 L379.8 316.8 L380.9 316.9 L381.9 316.9 L383.0 316.9 L384.0 317.0 L385.1 317.0 L386.1 317.0 L387.2 317.1 L388.2 317.1 L389.3 317.1 L390.3 317.2 L391.4 317.2 L392.4 317.2 L393.5 317.2 L394.5 317.3" fill="none" stroke-width="1.4"/>
<path d="M78.7 218.4a3.3 3.3 0 1 0 6.6 0a3.3 3.3 0 1 0 -6.6 0zM79.8 221.1a3.3 3.3 0 1 0 6.6 0a3.3 3.3 0 1 0 -6.6 0zM80.8 223.9a3.3 3.3 0 1 0 6.6 0a3.3 3.3 0 1 0 -6.6 0zM81.9 226.7a3.3 3.3 0 1 0 6.6 0a3.3 3.3 0 1 0 -6.6 0zM82.9 229.5a3.3 3.3 0 1 0 6.6 0a3.3 3.3 0 1 0 -6.6 0zM84.0 232.2a3.3 3.3 0 1 0 6.6 0a3.3 3.3 0 1 0 -6.6 0zM85.0 234.9a3.3 3.3 0 1 0 6.6 0a3.3 3.3 0 1 0 -6.6 0zM86.1 237.5a3.3 3.3 0 1 0 6.6 0a3.3 3.3 0 1 0 -6.6 0zM87.1 239.9a3.3 3.3 0 1 0 6.6 0a3.3 3.3 0 1 0 -6.6 0zM88.2 242.3a3.3 3.3 0 1 0 6.6 0a3.3 3.3 0 1 0 -6.6 0zM89.2 244.6a3.3 3.3 0 1 0 6.6 0a3.3 3.3 0 1 0 -6.6 0zM90.3 246.7a3.3 3.3 0 1 0 6.6 0a3.3 3.3 0 1 0 -6.6 0zM91.3 248.7a3.3 3.3 0 1 0 6.6 0a3.3 3.3 0 1 0 -6.6 0zM92.4 250.6a3.3 3.3 0 1 0 6.6 0a3.3 3.3 0 1 0 -6.6 0zM93.4 252.4a3.3 3.3 0 1 0 6.6 0a3.3 3.3 0 1 0 -6.6 0zM94.5 254.1a3.3 3.3 0 1 0 6.6 0a3.3 3.3 0 1 0 -6.6 0zM95.5 255.7a3.3 3.3 0 1 0 6.6 0a3.3 3.3 0 1 0 -6.6 0zM96.6 257.3a3.3 3.3 0 1 0 6.6 0a3.3 3.3 0 1 0 -6.6 0zM97.6 258.7a3.3 3.3 0 1 0 6.6 0a3.3 3.3 0 1 0 -6.6 0zM98.7 260.1a3.3 3.3 0 1 0 6.6 0a3.3 3.3 0 1 0 -6.6 0zM99.8 261.4a3.3 3.3 0 1 0 6.6 0a3.3 3.3 0 1 0 -6.6 0zM100.8 262.6a3.3 3.3 0 1 0 6.6 0a3.3 3.3 0 1 0 -6.6 0zM101.9 263.8a3.3 3.3 0 1 0 6.6 0a3.3 3.3 0 1 0 -6.6 0zM102.9 265.0a3.3 3.3 0 1 0 6.6 0a3.3 3.3 0 1 0 -6.6 0zM104.0 266.0a3.3 3.3 0 1 0 6.6 0a3.3 3.3 0 1 0 -6.6 0zM105.0 267.1a3.3 3.3 0 1 0 6.6 0a3.3 3.3 0 1 0 -6.6 0zM106.1 268.1a3.3 3.3 0 1 0 6.6 0a3.3 3.3 0 1 0 -6.6 0zM107.1 269.0a3.3 3.3 0 1 0 6.6 0a3.3 3.3 0 1 0 -6.6 0zM108.2 270.0a3.3 3.3 0 1 0 6.6 0a3.3 3.3 0 1 0 -6.6 0zM109.2 270.9a3.3 3.3 0 1 0 6.6 0a3.3 3.3 0 1 0 -6.6 0zM110.3 271.7a3.3 3.3 0 1 0 6.6 0a3.3 3.3 0 1 0 -6.6 0zM111.3 272.5a3.3 3.3 0 1 0 6.6 0a3.3 3.3 0 1 0 -6.6 0zM112.4 273.3a3.3 3.3 0 1 0 6.6 0a3.3 3.3 0 1 0 -6.6 0zM113.4 274.1a3.3 3.3 0 1 0 6.6 0a3.3 3.3 0 1 0 -6.6 0zM114.5 274.8a3.3 3.3 0 1 0 6.6 0a3.3 3.3 0 1 0 -6.6 0zM115.5 275.6a3.3 3.3 0 1 0 6.6 0a3.3 3.3 0 1 0 -6.6 0zM116.6 276.3a3.3 3.3 0 1 0 6.6 0a3.3 3.3 0 1 0 -6.6 0zM117.6 276.9a3.3 3.3 0 1 0 6.6 0a3.3 3.3 0 1 0 -6.6 0zM118.7 277.6a3.3 3.3 0 1 0 6.6 0a3.3 3.3 0 1 0 -6.6 0zM119.7 278.2a3.3 3.3 0 1 0 6.6 0a3.3 3.3 0 1 0 -6.6 0zM120.8 278.8a3.3 3.3 0 1 0 6.6 0a3.3 3.3 0 1 0 -6.6 0zM121.9 279.4a3.3 3.3 0 1 0 6.6 0a3.3 3.3 0 1 0 -6.6 0zM122.9 280.0a3.3 3.3 0 1 0 6.6 0a3.3 3.3 0 1 0 -6.6 0zM124.0 280.5a3.3 3.3 0 1 0 6.6 0a3.3 3.3 0 1 0 -6.6 0zM125.0 281.1a3.3 3.3 0 1 0 6.6 0a3.3 3.3 0 1 0 -6.6 0zM126.1 281.6a3.3 3.3 0 1 0 6.6 0a3.3 3.3 0 1 0 -6.6 0zM127.1 282.1a3.3 3.3 0 1 0 6.6 0a3.3 3.3 0 1 0 -6.6 0zM128.2 282.6a3.3 3.3 0 1 0 6.6 0a3.3 3.3 0 1 0 -6.6 0zM129.2 283.1a3.3 3.3 0 1 0 6.6 0a3.3 3.3 0 1 0 -6.6 0zM130.3 283.6a3.3 3.3 0 1 0 6.6 0a3.3 3.3 0 1 0 -6.6 0zM131.3 284.0a3.3 3.3 0 1 0 6.6 0a3.3 3.3 0 1 0 -6.6 0zM132.4 284.5a3.3 3.3 0 1 0 6.6 0a3.3 3.3 0 1 0 -6.6 0zM133.4 284.9a3.3 3.3 0 1 0 6.6 0a3.3 3.3 0 1 0 -6.6 0zM134.5 285.3a3.3 3.3 0 1 0 6.6 0a3.3 3.3 0 1 0 -6.6 0zM135.5 285.7a3.3 3.3 0 1 0 6.6 0a3.3 3.3 0 1 0 -6.6 0zM136.6 286.1a3.3 3.3 0 1 0 6.6 0a3.3 3.3 0 1 0 -6.6 0zM137.6 286.5a3.3 3.3 0 1 0 6.6 0a3.3 3.3 0 1 0 -6.6 0zM138.7 286.9a3.3 3.3 0 1 0 6.6 0a3.3 3.3 0 1 0 -6.6 0zM139.7 287.3a3.3 3.3 0 1 0 6.6 0a3.3 3.3 0 1 0 -6.6 0zM140.8 287.7a3.3 3.3 0 1 0 6.6 0a3.3 3.3 0 1 0 -6.6 0zM141.8 288.0a3.3 3.3 0 1 0 6.6 0a3.3 3.3 0 1 0 -6.6 0zM142.9 288.4a3.3 3.3 0 1 0 6.6 0a3.3 3.3 0 1 0 -6.6 0zM143.9 288.7a3.3 3.3 0 1 0 6.6 0a3.3 3.3 0 1 0 -6.6 0zM145.0 289.1a3.3 3.3 0 1 0 6.6 0a3.3 3.3 0 1 0 -6.6 0zM146.1 289.4a3.3 3.3 0 1 0 6.6 0a3.3 3.3 0 1 0 -6.6 0zM147.1 289.7a3.3 3.3 0 1 0 6.6 0a3.3 3.3 0 1 0 -6.6 0zM148.2 290.0a3.3 3.3 0 1 0 6.6 0a3.3 3.3 0 1 0 -6.6 0zM149.2 290.3a3.3 3.3 0 1 0 6.6 0a3.3 3.3 0 1 0 -6.6 0zM150.3 290.6a3.3 3.3 0 1 0 6.6 0a3.3 3.3 0 1 0 -6.6 0zM151.3 290.9a3.3 3.3 0 1 0 6.6 0a3.3 3.3 0 1 0 -6.6 0zM152.4 291.2a3.3 3.3 0 1 0 6.6 0a3.3 3.3 0 1 0 -6.6 0zM153.4 291.5a3.3 3.3 0 1 0 6.6 0a3.3 3.3 0 1 0 -6.6 0zM154.5 291.8a3.3 3.3 0 1 0 6.6 0a3.3 3.3 0 1 0 -6.6 0zM155.5 292.1a3.3 3.3 0 1 0 6.6 0a3.3 3.3 0 1 0 -6.6 0zM156.6 292.3a3.3 3.3 0 1 0 6.6 0a3.3 3.3 0 1 0 -6.6 0zM157.6 292.6a3.3 3.3 0 1 0 6.6 0a3.3 3.3 0 1 0 -6.6 0zM158.7 292.8a3.3 3.3 0 1 0 6.6 0a3.3 3.3 0 1 0 -6.6 0zM159.7 293.1a3.3 3.3 0 1 0 6.6 0a3.3 3.3 0 1 0 -6.6 0zM160.8 293.3a3.3 3.3 0 1 0 6.6 0a3.3 3.3 0 1 0 -6.6 0zM161.8 293.6a3.3 3.3 0 1 0 6.6 0a3.3 3.3 0 1 0 -6.6 0zM162.9 293.8a3.3 3.3 0 1 0 6.6 0a3.3 3.3 0 1 0 -6.6 0zM163.9 294.1a3.3 3.3 0 1 0 6.6 0a3.3 3.3 0 1 0 -6.6 0zM165.0 294.3a3.3 3.3 0 1 0 6.6 0a3.3 3.3 0 1 0 -6.6 0zM166.0 294.5a3.3 3.3 0 1 0 6.6 0a3.3 3.3 0 1 0 -6.6 0zM167.1 294.7a3.3 3.3 0 1 0 6.6 0a3.3 3.3 0 1 0 -6.6 0zM168.2 295.0a3.3 3.3 0 1 0 6.6 0a3.3 3.3 0 1 0 -6.6 0zM169.2 295.2a3.3 3.3 0 1 0 6.6 0a3.3 3.3 0 1 0 -6.6 0zM170.3 295.4a3.3 3.3 0 1 0 6.6 0a3.3 3.3 0 1 0 -6.6 0zM171.3 295.6a3.3 3.3 0 1 0 6.6 0a3.3 3.3 0 1 0 -6.6 0zM172.4 295.8a3.3 3.3 0 1 0 6.6 0a3.3 3.3 0 1 0 -6.6 0zM173.4 296.0a3.3 3.3 0 1 0 6.6 0a3.3 3.3 0 1 0 -6.6 0zM174.5 296.2a3.3 3.3 0 1 0 6.6 0a3.3 3.3 0 1 0 -6.6 0zM175.5 296.4a3.3 3.3 0 1 0 6.6 0a3.3 3.3 0 1 0 -6.6 0zM176.6 296.6a3.3 3.3 0 1 0 6.6 0a3.3 3.3 0 1 0 -6.6 0zM177.6 296.8a3.3 3.3 0 1 0 6.6 0a3.3 3.3 0 1 0 -6.6 0zM178.7 297.0a3.3 3.3 0 1 0 6.6 0a3.3 3.3 0 1 0 -6.6 0zM179.7 297.2a3.3 3.3 0 1 0 6.6 0a3.3 3.3 0 1 0 -6.6 0zM180.8 297.4a3.3 3.3 0 1 0 6.6 0a3.3 3.3 0 1 0 -6.6 0zM181.8 297.6a3.3 3.3 0 1 0 6.6 0a3.3 3.3 0 1 0 -6.6 0zM182.9 297.7a3.3 3.3 0 1 0 6.6 0a3.3 3.3 0 1 0 -6.6 0zM183.9 297.9a3.3 3.3 0 1 0 6.6 0a3.3 3.3 0 1 0 -6.6 0zM185.0 298.1a3.3 3.3 0 1 0 6.6 0a3.3 3.3 0 1 0 -6.6 0zM186.0 298.3a3.3 3.3 0 1 0 6.6 0a3.3 3.3 0 1 0 -6.6 0zM187.1 298.5a3.3 3.3 0 1 0 6.6 0a3.3 3.3 0 1 0 -6.6 0zM188.1 298.7a3.3 3.3 0 1 0 6.6 0a3.3 3.3 0 1 0 -6.6 0zM189.2 298.9a3.3 3.3 0 1 0 6.6 0a3.3 3.3 0 1 0 -6.6 0zM190.3 299.1a3.3 3.3 0 1 0 6.6 0a3.3 3.3 0 1 0 -6.6 0zM191.3 299.2a3.3 3.3 0 1 0 6.6 0a3.3 3.3 0 1 0 -6.6 0zM192.4 299.4a3.3 3.3 0 1 0 6.6 0a3.3 3.3 0 1 0 -6.6 0zM193.4 299.6a3.3 3.3 0 1 0 6.6 0a3.3 3.3 0 1 0 -6.6 0zM194.5 299.8a3.3 3.3 0 1 0 6.6 0a3.3 3.3 0 1 0 -6.6 0zM195.5 300.0a3.3 3.3 0 1 0 6.6 0a3.3 3.3 0 1 0 -6.6 0zM196.6 300.2a3.3 3.3 0 1 0 6.6 0a3.3 3.3 0 1 0 -6.6 0zM197.6 300.4a3.3 3.3 0 1 0 6.6 0a3.3 3.3 0 1 0 -6.6 0zM198.7 300.6a3.3 3.3 0 1 0 6.6 0a3.3 3.3 0 1 0 -6.6 0zM199.7 300.7a3.3 3.3 0 1 0 6.6 0a3.3 3.3 0 1 0 -6.6 0zM200.8 300.9a3.3 3.3 0 1 0 6.6 0a3.3 3.3 0 1 0 -6.6 0zM201.8 301.1a3.3 3.3 0 1 0 6.6 0a3.3 3.3 0 1 0 -6.6 0zM202.9 301.3a3.3 3.3 0 1 0 6.6 0a3.3 3.3 0 1 0 -6.6 0zM203.9 301.4a3.3 3.3 0 1 0 6.6 0a3.3 3.3 0 1 0 -6.6 0zM205.0 301.6a3.3 3.3 0 1 0 6.6 0a3.3 3.3 0 1 0 -6.6 0zM206.0 301.8a3.3 3.3 0 1 0 6.6 0a3.3 3.3 0 1 0 -6.6 0zM207.1 302.0a3.3 3.3 0 1 0 6.6 0a3.3 3.3 0 1 0 -6.6 0zM208.1 302.1a3.3 3.3 0 1 0 6.6 0a3.3 3.3 0 1 0 -6.6 0zM209.2 302.3a3.3 3.3 0 1 0 6.6 0a3.3 3.3 0 1 0 -6.6 0zM210.2 302.5a3.3 3.3 0 1 0 6.6 0a3.3 3.3 0 1 0 -6.6 0zM211.3 302.6a3.3 3.3 0 1 0 6.6 0a3.3 3.3 0 1 0 -6.6 0zM212.4 302.8a3.3 3.3 0 1 0 6.6 0a3.3 3.3 0 1 0 -6.6 0zM213.4 303.0a3.3 3.3 0 1 0 6.6 0a3.3 3.3 0 1 0 -6.6 0zM214.5 303.1a3.3 3.3 0 1 0 6.6 0a3.3 3.3 0 1 0 -6.6 0zM215.5 303.3a3.3 3.3 0 1 0 6.6 0a3.3 3.3 0 1 0 -6.6 0zM216.6 303.5a3.3 3.3 0 1 0 6.6 0a3.3 3.3 0 1 0 -6.6 0zM217.6 303.6a3.3 3.3 0 1 0 6.6 0a3.3 3.3 0 1 0 -6.6 0zM218.7 303.8a3.3 3.3 0 1 0 6.6 0a3.3 3.3 0 1 0 -6.6 0zM219.7 304.0a3.3 3.3 0 1 0 6.6 0a3.3 3.3 0 1 0 -6.6 0zM220.8 304.1a3.3 3.3 0 1 0 6.6 0a3.3 3.3 0 1 0 -6.6 0zM221.8 304.3a3.3 3.3 0 1 0 6.6 0a3.3 3.3 0 1 0 -6.6 0zM222.9 304.4a3.3 3.3 0 1 0 6.6 0a3.3 3.3 0 1 0 -6.6 0zM223.9 304.6a3.3 3.3 0 1 0 6.6 0a3.3 3.3 0 1 0 -6.6 0zM225.0 304.8a3.3 3.3 0 1 0 6.6 0a3.3 3.3 0 1 0 -6.6 0zM226.0 304.9a3.3 3.3 0 1 0 6.6 0a3.3 3.3 0 1 0 -6.6 0zM227.1 305.1a3.3 3.3 0 1 0 6.6 0a3.3 3.3 0 1 0 -6.6 0zM228.1 305.2a3.3 3.3 0 1 0 6.6 0a3.3 3.3 0 1 0 -6.6 0zM229.2 305.4a3.3 3.3 0 1 0 6.6 0a3.3 3.3 0 1 0 -6.6 0zM230.2 305.5a3.3 3.3 0 1 0 6.6 0a3.3 3.3 0 1 0 -6.6 0zM231.3 305.7a3.3 3.3 0 1 0 6.6 0a3.3 3.3 0 1 0 -6.6 0zM232.3 305.8a3.3 3.3 0 1 0 6.6 0a3.3 3.3 0 1 0 -6.6 0zM233.4 306.0a3.3 3.3 0 1 0 6.6 0a3.3 3.3 0 1 0 -6.6 0zM234.5 306.1a3.3 3.3 0 1 0 6.6 0a3.3 3.3 0 1 0 -6.6 0zM235.5 306.3a3.3 3.3 0 1 0 6.6 0a3.3 3.3 0 1 0 -6.6 0zM236.6 306.4a3.3 3.3 0 1 0 6.6 0a3.3 3.3 0 1 0 -6.6 0zM237.6 306.6a3.3 3.3 0 1 0 6.6 0a3.3 3.3 0 1 0 -6.6 0zM238.7 306.7a3.3 3.3 0 1 0 6.6 0a3.3 3.3 0 1 0 -6.6 0zM239.7 306.8a3.3 3.3 0 1 0 6.6 0a3.3 3.3 0 1 0 -6.6 0zM240.8 306.9a3.3 3.3 0 1 0 6.6 0a3.3 3.3 0 1 0 -6.6 0zM241.8 307.0a3.3 3.3 0 1 0 6.6 0a3.3 3.3 0 1 0 -6.6 0zM242.9 307.2a3.3 3.3 0 1 0 6.6 0a3.3 3.3 0 1 0 -6.6 0zM243.9 307.3a3.3 3.3 0 1 0 6.6 0a3.3 3.3 0 1 0 -6.6 0zM245.0 307.4a3.3 3.3 0 1 0 6.6 0a3.3 3.3 0 1 0 -6.6 0zM246.0 307.5a3.3 3.3 0 1 0 6.6 0a3.3 3.3 0 1 0 -6.6 0zM247.1 307.6a3.3 3.3 0 1 0 6.6 0a3.3 3.3 0 1 0 -6.6 0zM248.1 307.7a3.3 3.3 0 1 0 6.6 0a3.3 3.3 0 1 0 -6.6 0zM249.2 307.8a3.3 3.3 0 1 0 6.6 0a3.3 3.3 0 1 0 -6.6 0zM250.2 308.0a3.3 3.3 0 1 0 6.6 0a3.3 3.3 0 1 0 -6.6 0zM251.3 308.1a3.3 3.3 0 1 0 6.6 0a3.3 3.3 0 1 0 -6.6 0zM252.3 308.2a3.3 3.3 0 1 0 6.6 0a3.3 3.3 0 1 0 -6.6 0zM253.4 308.3a3.3 3.3 0 1 0 6.6 0a3.3 3.3 0 1 0 -6.6 0zM254.4 308.4a3.3 3.3 0 1 0 6.6 0a3.3 3.3 0 1 0 -6.6 0zM255.5 308.5a3.3 3.3 0 1 0 6.6 0a3.3 3.3 0 1 0 -6.6 0zM256.5 308.6a3.3 3.3 0 1 0 6.6 0a3.3 3.3 0 1 0 -6.6 0zM257.6 308.7a3.3 3.3 0 1 0 6.6 0a3.3 3.3 0 1 0 -6.6 0zM258.7 308.8a3.3 3.3 0 1 0 6.6 0a3.3 3.3 0 1 0 -6.6 0zM259.7 308.9a3.3 3.3 0 1 0 6.6 0a3.3 3.3 0 1 0 -6.6 0zM260.8 309.1a3.3 3.3 0 1 0 6.6 0a3.3 3.3 0 1 0 -6.6 0zM261.8 309.2a3.3 3.3 0 1 0 6.6 0a3.3 3.3 0 1 0 -6.6 0zM262.9 309.3a3.3 3.3 0 1 0 6.6 0a3.3 3.3 0 1 0 -6.6 0zM263.9 309.4a3.3 3.3 0 1 0 6.6 0a3.3 3.3 0 1 0 -6.6 0zM265.0 309.5a3.3 3.3 0 1 0 6.6 0a3.3 3.3 0 1 0 -6.6 0zM266.0 309.6a3.3 3.3 0 1 0 6.6 0a3.3 3.3 0 1 0 -6.6 0zM267.1 309.7a3.3 3.3 0 1 0 6.6 0a3.3 3.3 0 1 0 -6.6 0zM268.1 309.8a3.3 3.3 0 1 0 6.6 0a3.3 3.3 0 1 0 -6.6 0zM269.2 309.9a3.3 3.3 0 1 0 6.6 0a3.3 3.3 0 1 0 -6.6 0zM270.2 310.0a3.3 3.3 0 1 0 6.6 0a3.3 3.3 0 1 0 -6.6 0zM271.3 310.1a3.3 3.3 0 1 0 6.6 0a3.3 3.3 0 1 0 -6.6 0zM272.3 310.2a3.3 3.3 0 1 0 6.6 0a3.3 3.3 0 1 0 -6.6 0zM273.4 310.3a3.3 3.3 0 1 0 6.6 0a3.3 3.3 0 1 0 -6.6 0zM274.4 310.4a3.3 3.3 0 1 0 6.6 0a3.3 3.3 0 1 0 -6.6 0zM275.5 310.5a3.3 3.3 0 1 0 6.6 0a3.3 3.3 0 1 0 -6.6 0zM276.5 310.6a3.3 3.3 0 1 0 6.6 0a3.3 3.3 0 1 0 -6.6 0zM277.6 310.7a3.3 3.3 0 1 0 6.6 0a3.3 3.3 0 1 0 -6.6 0zM278.6 310.8a3.3 3.3 0 1 0 6.6 0a3.3 3.3 0 1 0 -6.6 0zM279.7 310.9a3.3 3.3 0 1 0 6.6 0a3.3 3.3 0 1 0 -6.6 0zM280.8 311.0a3.3 3.3 0 1 0 6.6 0a3.3 3.3 0 1 0 -6.6 0zM281.8 311.1a3.3 3.3 0 1 0 6.6 0a3.3 3.3 0 1 0 -6.6 0zM282.9 311.2a3.3 3.3 0 1 0 6.6 0a3.3 3.3 0 1 0 -6.6 0zM283.9 311.2a3.3 3.3 0 1 0 6.6 0a3.3 3.3 0 1 0 -6.6 0zM285.0 311.3a3.3 3.3 0 1 0 6.6 0a3.3 3.3 0 1 0 -6.6 0zM286.0 311.4a3.3 3.3 0 1 0 6.6 0a3.3 3.3 0 1 0 -6.6 0zM287.1 311.5a3.3 3.3 0 1 0 6.6 0a3.3 3.3 0 1 0 -6.6 0zM288.1 311.6a3.3 3.3 0 1 0 6.6 0a3.3 3.3 0 1 0 -6.6 0zM289.2 311.7a3.3 3.3 0 1 0 6.6 0a3.3 3.3 0 1 0 -6.6 0zM290.2 311.8a3.3 3.3 0 1 0 6.6 0a3.3 3.3 0 1 0 -6.6 0zM291.3 311.9a3.3 3.3 0 1 0 6.6 0a3.3 3.3 0 1 0 -6.6 0zM292.3 311.9a3.3 3.3 0 1 0 6.6 0a3.3 3.3 0 1 0 -6.6 0zM293.4 312.0a3.3 3.3 0 1 0 6.6 0a3.3 3.3 0 1 0 -6.6 0zM294.4 312.1a3.3 3.3 0 1 0 6.6 0a3.3 3.3 0 1 0 -6.6 0zM295.5 312.2a3.3 3.3 0 1 0 6.6 0a3.3 3.3 0 1 0 -6.6 0zM296.5 312.3a3.3 3.3 0 1 0 6.6 0a3.3 3.3 0 1 0 -6.6 0zM297.6 312.3a3.3 3.3 0 1 0 6.6 0a3.3 3.3 0 1 0 -6.6 0zM298.6 312.4a3.3 3.3 0 1 0 6.6 0a3.3 3.3 0 1 0 -6.6 0zM299.7 312.5a3.3 3.3 0 1 0 6.6 0a3.3 3.3 0 1 0 -6.6 0zM300.7 312.6a3.3 3.3 0 1 0 6.6 0a3.3 3.3 0 1 0 -6.6 0zM301.8 312.7a3.3 3.3 0 1 0 6.6 0a3.3 3.3 0 1 0 -6.6 0zM302.9 312.7a3.3 3.3 0 1 0 6.6 0a3.3 3.3 0 1 0 -6.6 0zM303.9 312.8a3.3 3.3 0 1 0 6.6 0a3.3 3.3 0 1 0 -6.6 0zM305.0 312.9a3.3 3.3 0 1 0 6.6 0a3.3 3.3 0 1 0 -6.6 0zM306.0 313.0a3.3 3.3 0 1 0 6.6 0a3.3 3.3 0 1 0 -6.6 0zM307.1 313.0a3.3 3.3 0 1 0 6.6 0a3.3 3.3 0 1 0 -6.6 0zM308.1 313.1a3.3 3.3 0 1 0 6.6 0a3.3 3.3 0 1 0 -6.6 0zM309.2 313.2a3.3 3.3 0 1 0 6.6 0a3.3 3.3 0 1 0 -6.6 0zM310.2 313.3a3.3 3.3 0 1 0 6.6 0a3.3 3.3 0 1 0 -6.6 0zM311.3 313.3a3.3 3.3 0 1 0 6.6 0a3.3 3.3 0 1 0 -6.6 0zM312.3 313.4a3.3 3.3 0 1 0 6.6 0a3.3 3.3 0 1 0 -6.6 0zM313.4 313.5a3.3 3.3 0 1 0 6.6 0a3.3 3.3 0 1 0 -6.6 0zM314.4 313.6a3.3 3.3 0 1 0 6.6 0a3.3 3.3 0 1 0 -6.6 0zM315.5 313.6a3.3 3.3 0 1 0 6.6 0a3.3 3.3 0 1 0 -6.6 0zM316.5 313.7a3.3 3.3 0 1 0 6.6 0a3.3 3.3 0 1 0 -6.6 0zM317.6 313.8a3.3 3.3 0 1 0 6.6 0a3.3 3.3 0 1 0 -6.6 0zM318.6 313.8a3.3 3.3 0 1 0 6.6 0a3.3 3.3 0 1 0 -6.6 0zM319.7 313.9a3.3 3.3 0 1 0 6.6 0a3.3 3.3 0 1 0 -6.6 0zM320.7 314.0a3.3 3.3 0 1 0 6.6 0a3.3 3.3 0 1 0 -6.6 0zM321.8 314.0a3.3 3.3 0 1 0 6.6 0a3.3 3.3 0 1 0 -6.6 0zM322.8 314.1a3.3 3.3 0 1 0 6.6 0a3.3 3.3 0 1 0 -6.6 0zM323.9 314.2a3.3 3.3 0 1 0 6.6 0a3.3 3.3 0 1 0 -6.6 0zM325.0 314.2a3.3 3.3 0 1 0 6.6 0a3.3 3.3 0 1 0 -6.6 0zM326.0 314.3a3.3 3.3 0 1 0 6.6 0a3.3 3.3 0 1 0 -6.6 0zM327.1 314.4a3.3 3.3 0 1 0 6.6 0a3.3 3.3 0 1 0 -6.6 0zM328.1 314.4a3.3 3.3 0 1 0 6.6 0a3.3 3.3 0 1 0 -6.6 0zM329.2 314.5a3.3 3.3 0 1 0 6.6 0a3.3 3.3 0 1 0 -6.6 0zM330.2 314.6a3.3 3.3 0 1 0 6.6 0a3.3 3.3 0 1 0 -6.6 0zM331.3 314.6a3.3 3.3 0 1 0 6.6 0a3.3 3.3 0 1 0 -6.6 0zM332.3 314.7a3.3 3.3 0 1 0 6.6 0a3.3 3.3 0 1 0 -6.6 0zM333.4 314.8a3.3 3.3 0 1 0 6.6 0a3.3 3.3 0 1 0 -6.6 0zM334.4 314.8a3.3 3.3 0 1 0 6.6 0a3.3 3.3 0 1 0 -6.6 0zM335.5 314.9a3.3 3.3 0 1 0 6.6 0a3.3 3.3 0 1 0 -6.6 0zM336.5 314.9a3.3 3.3 0 1 0 6.6 0a3.3 3.3 0 1 0 -6.6 0zM337.6 315.0a3.3 3.3 0 1 0 6.6 0a3.3 3.3 0 1 0 -6.6 0zM338.6 315.1a3.3 3.3 0 1 0 6.6 0a3.3 3.3 0 1 0 -6.6 0zM339.7 315.1a3.3 3.3 0 1 0 6.6 0a3.3 3.3 0 1 0 -6.6 0zM340.7 315.2a3.3 3.3 0 1 0 6.6 0a3.3 3.3 0 1 0 -6.6 0zM341.8 315.2a3.3 3.3 0 1 0 6.6 0a3.3 3.3 0 1 0 -6.6 0zM342.8 315.3a3.3 3.3 0 1 0 6.6 0a3.3 3.3 0 1 0 -6.6 0zM343.9 315.4a3.3 3.3 0 1 0 6.6 0a3.3 3.3 0 1 0 -6.6 0zM344.9 315.4a3.3 3.3 0 1 0 6.6 0a3.3 3.3 0 1 0 -6.6 0zM346.0 315.5a3.3 3.3 0 1 0 6.6 0a3.3 3.3 0 1 0 -6.6 0zM347.0 315.5a3.3 3.3 0 1 0 6.6 0a3.3 3.3 0 1 0 -6.6 0zM348.1 315.6a3.3 3.3 0 1 0 6.6 0a3.3 3.3 0 1 0 -6.6 0zM349.2 315.6a3.3 3.3 0 1 0 6.6 0a3.3 3.3 0 1 0 -6.6 0zM350.2 315.7a3.3 3.3 0 1 0 6.6 0a3.3 3.3 0 1 0 -6.6 0zM351.3 315.8a3.3 3.3 0 1 0 6.6 0a3.3 3.3 0 1 0 -6.6 0zM352.3 315.8a3.3 3.3 0 1 0 6.6 0a3.3 3.3 0 1 0 -6.6 0zM353.4 315.9a3.3 3.3 0 1 0 6.6 0a3.3 3.3 0 1 0 -6.6 0zM354.4 315.9a3.3 3.3 0 1 0 6.6 0a3.3 3.3 0 1 0 -6.6 0zM355.5 316.0a3.3 3.3 0 1 0 6.6 0a3.3 3.3 0 1 0 -6.6 0zM356.5 316.0a3.3 3.3 0 1 0 6.6 0a3.3 3.3 0 1 0 -6.6 0zM357.6 316.1a3.3 3.3 0 1 0 6.6 0a3.3 3.3 0 1 0 -6.6 0zM358.6 316.1a3.3 3.3 0 1 0 6.6 0a3.3 3.3 0 1 0 -6.6 0zM359.7 316.2a3.3 3.3 0 1 0 6.6 0a3.3 3.3 0 1 0 -6.6 0zM360.7 316.2a3.3 3.3 0 1 0 6.6 0a3.3 3.3 0 1 0 -6.6 0zM361.8 316.3a3.3 3.3 0 1 0 6.6 0a3.3 3.3 0 1 0 -6.6 0zM362.8 316.3a3.3 3.3 0 1 0 6.6 0a3.3 3.3 0 1 0 -6.6 0zM363.9 316.4a3.3 3.3 0 1 0 6.6 0a3.3 3.3 0 1 0 -6.6 0zM364.9 316.4a3.3 3.3 0 1 0 6.6 0a3.3 3.3 0 1 0 -6.6 0zM366.0 316.5a3.3 3.3 0 1 0 6.6 0a3.3 3.3 0 1 0 -6.6 0zM367.0 316.5a3.3 3.3 0 1 0 6.6 0a3.3 3.3 0 1 0 -6.6 0zM368.1 316.6a3.3 3.3 0 1 0 6.6 0a3.3 3.3 0 1 0 -6.6 0zM369.1 316.6a3.3 3.3 0 1 0 6.6 0a3.3 3.3 0 1 0 -6.6 0zM370.2 316.6a3.3 3.3 0 1 0 6.6 0a3.3 3.3 0 1 0 -6.6 0zM371.3 316.7a3.3 3.3 0 1 0 6.6 0a3.3 3.3 0 1 0 -6.6 0zM372.3 316.7a3.3 3.3 0 1 0 6.6 0a3.3 3.3 0 1 0 -6.6 0zM373.4 316.7a3.3 3.3 0 1 0 6.6 0a3.3 3.3 0 1 0 -6.6 0zM374.4 316.8a3.3 3.3 0 1 0 6.6 0a3.3 3.3 0 1 0 -6.6 0zM375.5 316.8a3.3 3.3 0 1 0 6.6 0a3.3 3.3 0 1 0 -6.6 0zM376.5 316.8a3.3 3.3 0 1 0 6.6 0a3.3 3.3 0 1 0 -6.6 0zM377.6 316.9a3.3 3.3 0 1 0 6.6 0a3.3 3.3 0 1 0 -6.6 0zM378.6 316.9a3.3 3.3 0 1 0 6.6 0a3.3 3.3 0 1 0 -6.6 0zM379.7 316.9a3.3 3.3 0 1 0 6.6 0a3.3 3.3 0 1 0 -6.6 0zM380.7 317.0a3.3 3.3 0 1 0 6.6 0a3.3 3.3 0 1 0 -6.6 0zM381.8 317.0a3.3 3.3 0 1 0 6.6 0a3.3 3.3 0 1 0 -6.6 0zM382.8 317.0a3.3 3.3 0 1 0 6.6 0a3.3 3.3 0 1 0 -6.6 0zM383.9 317.1a3.3 3.3 0 1 0 6.6 0a3.3 3.3 0 1 0 -6.6 0zM384.9 317.1a3.3 3.3 0 1 0 6.6 0a3.3 3.3 0 1 0 -6.6 0zM386.0 317.1a3.3 3.3 0 1 0 6.6 0a3.3 3.3 0 1 0 -6.6 0zM387.0 317.2a3.3 3.3 0 1 0 6.6 0a3.3 3.3 0 1 0 -6.6 0zM388.1 317.2a3.3 3.3 0 1 0 6.6 0a3.3 3.3 0 1 0 -6.6 0zM389.1 317.2a3.3 3.3 0 1 0 6.6 0a3.3 3.3 0 1 0 -6.6 0zM390.2 317.2a3.3 3.3 0 1 0 6.6 0a3.3 3.3 0 1 0 -6.6 0zM391.2 317.3a3.3 3.3 0 1 0 6.6 0a3.3 3.3 0 1 0 -6.6 0z" stroke="none"/></g>
<g fill="#ff0000" stroke="#ff0000"><path d="M82.0 129.3 L84.1 133.6 L86.2 140.1 L88.3 147.8 L90.4 155.9 L92.5 164.0 L94.6 172.0 L96.7 179.6 L98.8 186.7 L100.9 193.2 L103.1 199.3 L105.2 204.9 L107.3 210.2 L109.4 215.2 L111.5 219.9 L113.6 224.0 L117.8 231.2 L122.0 237.2 L126.2 242.4 L130.4 247.2 L134.6 251.5 L138.8 255.4 L143.0 259.0 L147.2 262.3 L151.5 265.3 L155.7 268.0 L159.9 270.5 L164.1 272.7 L168.3 274.8 L172.5 276.6 L176.7 278.4 L180.9 280.0 L185.1 281.5 L189.3 282.9 L193.6 284.3 L197.8 285.7 L202.0 286.9 L206.2 288.2 L210.4 289.3 L214.6 290.5 L218.8 291.6 L223.0 292.6 L227.2 293.6 L231.4 294.5 L235.6 295.5 L239.9 296.4 L244.1 297.1 L248.3 297.8 L252.5 298.5 L256.7 299.2 L260.9 299.9 L265.1 300.5 L269.3 301.1 L273.5 301.6 L277.7 302.2 L281.9 302.7 L286.2 303.2 L290.4 303.7 L294.6 304.1 L298.8 304.5 L303.0 304.9 L307.2 305.3 L311.4 305.7 L315.6 306.0 L319.8 306.3 L324.0 306.7 L328.3 307.0 L332.5 307.3 L336.7 307.5 L340.9 307.8 L345.1 308.1 L349.3 308.4 L353.5 308.6 L357.7 308.9 L361.9 309.2 L366.1 309.4 L370.3 309.6 L374.6 309.8 L378.8 309.9 L383.0 310.1 L387.2 310.2 L391.4 310.3 L395.6 310.5" fill="none" stroke-width="1.4"/>
<path d="M78.7 129.3a3.3 3.3 0 1 0 6.6 0a3.3 3.3 0 1 0 -6.6 0zM80.8 133.6a3.3 3.3 0 1 0 6.6 0a3.3 3.3 0 1 0 -6.6 0zM82.9 140.1a3.3 3.3 0 1 0 6.6 0a3.3 3.3 0 1 0 -6.6 0zM85.0 147.8a3.3 3.3 0 1 0 6.6 0a3.3 3.3 0 1 0 -6.6 0zM87.1 155.9a3.3 3.3 0 1 0 6.6 0a3.3 3.3 0 1 0 -6.6 0zM89.2 164.0a3.3 3.3 0 1 0 6.6 0a3.3 3.3 0 1 0 -6.6 0zM91.3 172.0a3.3 3.3 0 1 0 6.6 0a3.3 3.3 0 1 0 -6.6 0zM93.4 179.6a3.3 3.3 0 1 0 6.6 0a3.3 3.3 0 1 0 -6.6 0zM95.5 186.7a3.3 3.3 0 1 0 6.6 0a3.3 3.3 0 1 0 -6.6 0zM97.6 193.2a3.3 3.3 0 1 0 6.6 0a3.3 3.3 0 1 0 -6.6 0zM99.8 199.3a3.3 3.3 0 1 0 6.6 0a3.3 3.3 0 1 0 -6.6 0zM101.9 204.9a3.3 3.3 0 1 0 6.6 0a3.3 3.3 0 1 0 -6.6 0zM104.0 210.2a3.3 3.3 0 1 0 6.6 0a3.3 3.3 0 1 0 -6.6 0zM106.1 215.2a3.3 3.3 0 1 0 6.6 0a3.3 3.3 0 1 0 -6.6 0zM108.2 219.9a3.3 3.3 0 1 0 6.6 0a3.3 3.3 0 1 0 -6.6 0zM110.3 224.0a3.3 3.3 0 1 0 6.6 0a3.3 3.3 0 1 0 -6.6 0zM114.5 231.2a3.3 3.3 0 1 0 6.6 0a3.3 3.3 0 1 0 -6.6 0zM118.7 237.2a3.3 3.3 0 1 0 6.6 0a3.3 3.3 0 1 0 -6.6 0zM122.9 242.4a3.3 3.3 0 1 0 6.6 0a3.3 3.3 0 1 0 -6.6 0zM127.1 247.2a3.3 3.3 0 1 0 6.6 0a3.3 3.3 0 1 0 -6.6 0zM131.3 251.5a3.3 3.3 0 1 0 6.6 0a3.3 3.3 0 1 0 -6.6 0zM135.5 255.4a3.3 3.3 0 1 0 6.6 0a3.3 3.3 0 1 0 -6.6 0zM139.7 259.0a3.3 3.3 0 1 0 6.6 0a3.3 3.3 0 1 0 -6.6 0zM143.9 262.3a3.3 3.3 0 1 0 6.6 0a3.3 3.3 0 1 0 -6.6 0zM148.2 265.3a3.3 3.3 0 1 0 6.6 0a3.3 3.3 0 1 0 -6.6 0zM152.4 268.0a3.3 3.3 0 1 0 6.6 0a3.3 3.3 0 1 0 -6.6 0zM156.6 270.5a3.3 3.3 0 1 0 6.6 0a3.3 3.3 0 1 0 -6.6 0zM160.8 272.7a3.3 3.3 0 1 0 6.6 0a3.3 3.3 0 1 0 -6.6 0zM165.0 274.8a3.3 3.3 0 1 0 6.6 0a3.3 3.3 0 1 0 -6.6 0zM169.2 276.6a3.3 3.3 0 1 0 6.6 0a3.3 3.3 0 1 0 -6.6 0zM173.4 278.4a3.3 3.3 0 1 0 6.6 0a3.3 3.3 0 1 0 -6.6 0zM177.6 280.0a3.3 3.3 0 1 0 6.6 0a3.3 3.3 0 1 0 -6.6 0zM181.8 281.5a3.3 3.3 0 1 0 6.6 0a3.3 3.3 0 1 0 -6.6 0zM186.0 282.9a3.3 3.3 0 1 0 6.6 0a3.3 3.3 0 1 0 -6.6 0zM190.3 284.3a3.3 3.3 0 1 0 6.6 0a3.3 3.3 0 1 0 -6.6 0zM194.5 285.7a3.3 3.3 0 1 0 6.6 0a3.3 3.3 0 1 0 -6.6 0zM198.7 286.9a3.3 3.3 0 1 0 6.6 0a3.3 3.3 0 1 0 -6.6 0zM202.9 288.2a3.3 3.3 0 1 0 6.6 0a3.3 3.3 0 1 0 -6.6 0zM207.1 289.3a3.3 3.3 0 1 0 6.6 0a3.3 3.3 0 1 0 -6.6 0zM211.3 290.5a3.3 3.3 0 1 0 6.6 0a3.3 3.3 0 1 0 -6.6 0zM215.5 291.6a3.3 3.3 0 1 0 6.6 0a3.3 3.3 0 1 0 -6.6 0zM219.7 292.6a3.3 3.3 0 1 0 6.6 0a3.3 3.3 0 1 0 -6.6 0zM223.9 293.6a3.3 3.3 0 1 0 6.6 0a3.3 3.3 0 1 0 -6.6 0zM228.1 294.5a3.3 3.3 0 1 0 6.6 0a3.3 3.3 0 1 0 -6.6 0zM232.3 295.5a3.3 3.3 0 1 0 6.6 0a3.3 3.3 0 1 0 -6.6 0zM236.6 296.4a3.3 3.3 0 1 0 6.6 0a3.3 3.3 0 1 0 -6.6 0zM240.8 297.1a3.3 3.3 0 1 0 6.6 0a3.3 3.3 0 1 0 -6.6 0zM245.0 297.8a3.3 3.3 0 1 0 6.6 0a3.3 3.3 0 1 0 -6.6 0zM249.2 298.5a3.3 3.3 0 1 0 6.6 0a3.3 3.3 0 1 0 -6.6 0zM253.4 299.2a3.3 3.3 0 1 0 6.6 0a3.3 3.3 0 1 0 -6.6 0zM257.6 299.9a3.3 3.3 0 1 0 6.6 0a3.3 3.3 0 1 0 -6.6 0zM261.8 300.5a3.3 3.3 0 1 0 6.6 0a3.3 3.3 0 1 0 -6.6 0zM266.0 301.1a3.3 3.3 0 1 0 6.6 0a3.3 3.3 0 1 0 -6.6 0zM270.2 301.6a3.3 3.3 0 1 0 6.6 0a3.3 3.3 0 1 0 -6.6 0zM274.4 302.2a3.3 3.3 0 1 0 6.6 0a3.3 3.3 0 1 0 -6.6 0zM278.6 302.7a3.3 3.3 0 1 0 6.6 0a3.3 3.3 0 1 0 -6.6 0zM282.9 303.2a3.3 3.3 0 1 0 6.6 0a3.3 3.3 0 1 0 -6.6 0zM287.1 303.7a3.3 3.3 0 1 0 6.6 0a3.3 3.3 0 1 0 -6.6 0zM291.3 304.1a3.3 3.3 0 1 0 6.6 0a3.3 3.3 0 1 0 -6.6 0zM295.5 304.5a3.3 3.3 0 1 0 6.6 0a3.3 3.3 0 1 0 -6.6 0zM299.7 304.9a3.3 3.3 0 1 0 6.6 0a3.3 3.3 0 1 0 -6.6 0zM303.9 305.3a3.3 3.3 0 1 0 6.6 0a3.3 3.3 0 1 0 -6.6 0zM308.1 305.7a3.3 3.3 0 1 0 6.6 0a3.3 3.3 0 1 0 -6.6 0zM312.3 306.0a3.3 3.3 0 1 0 6.6 0a3.3 3.3 0 1 0 -6.6 0zM316.5 306.3a3.3 3.3 0 1 0 6.6 0a3.3 3.3 0 1 0 -6.6 0zM320.7 306.7a3.3 3.3 0 1 0 6.6 0a3.3 3.3 0 1 0 -6.6 0zM325.0 307.0a3.3 3.3 0 1 0 6.6 0a3.3 3.3 0 1 0 -6.6 0zM329.2 307.3a3.3 3.3 0 1 0 6.6 0a3.3 3.3 0 1 0 -6.6 0zM333.4 307.5a3.3 3.3 0 1 0 6.6 0a3.3 3.3 0 1 0 -6.6 0zM337.6 307.8a3.3 3.3 0 1 0 6.6 0a3.3 3.3 0 1 0 -6.6 0zM341.8 308.1a3.3 3.3 0 1 0 6.6 0a3.3 3.3 0 1 0 -6.6 0zM346.0 308.4a3.3 3.3 0 1 0 6.6 0a3.3 3.3 0 1 0 -6.6 0zM350.2 308.6a3.3 3.3 0 1 0 6.6 0a3.3 3.3 0 1 0 -6.6 0zM354.4 308.9a3.3 3.3 0 1 0 6.6 0a3.3 3.3 0 1 0 -6.6 0zM358.6 309.2a3.3 3.3 0 1 0 6.6 0a3.3 3.3 0 1 0 -6.6 0zM362.8 309.4a3.3 3.3 0 1 0 6.6 0a3.3 3.3 0 1 0 -6.6 0zM367.0 309.6a3.3 3.3 0 1 0 6.6 0a3.3 3.3 0 1 0 -6.6 0zM371.3 309.8a3.3 3.3 0 1 0 6.6 0a3.3 3.3 0 1 0 -6.6 0zM375.5 309.9a3.3 3.3 0 1 0 6.6 0a3.3 3.3 0 1 0 -6.6 0zM379.7 310.1a3.3 3.3 0 1 0 6.6 0a3.3 3.3 0 1 0 -6.6 0zM383.9 310.2a3.3 3.3 0 1 0 6.6 0a3.3 3.3 0 1 0 -6.6 0zM388.1 310.3a3.3 3.3 0 1 0 6.6 0a3.3 3.3 0 1 0 -6.6 0zM392.3 310.5a3.3 3.3 0 1 0 6.6 0a3.3 3.3 0 1 0 -6.6 0z" stroke="none"/></g>
<g fill="#0000ff" stroke="#0000ff"><path d="M82.0 102.2 L84.1 106.4 L86.2 112.3 L88.3 119.3 L90.4 127.0 L92.5 135.0 L94.6 143.0 L96.7 151.0 L98.8 158.7 L100.9 166.1 L103.1 173.1 L105.2 179.7 L107.3 185.9 L109.4 191.7 L111.5 197.1 L113.6 202.2 L117.8 211.3 L122.0 219.3 L126.2 226.4 L130.4 232.8 L134.6 238.5 L138.8 243.7 L143.0 248.3 L147.2 252.5 L151.5 256.3 L155.7 259.6 L159.9 262.7 L164.1 265.4 L168.3 267.9 L172.5 270.1 L176.7 272.1 L180.9 273.9 L185.1 275.6 L189.3 277.2 L193.6 278.7 L197.8 280.2 L202.0 281.5 L206.2 282.8 L210.4 284.1 L214.6 285.2 L218.8 286.3 L223.0 287.4 L227.2 288.4 L231.4 289.4 L235.6 290.3 L239.9 291.2 L244.1 292.0 L248.3 292.7 L252.5 293.4 L256.7 294.1 L260.9 294.7 L265.1 295.4 L269.3 296.0 L273.5 296.5 L277.7 297.1 L281.9 297.7 L286.2 298.2 L290.4 298.7 L294.6 299.1 L298.8 299.5 L303.0 299.8 L307.2 300.2 L311.4 300.5 L315.6 300.9 L319.8 301.2 L324.0 301.5 L328.3 301.8 L332.5 302.1 L336.7 302.4 L340.9 302.7 L345.1 303.1 L349.3 303.5 L353.5 303.9 L357.7 304.2 L361.9 304.6 L366.1 305.0 L370.3 305.3 L374.6 305.7 L378.8 306.0 L383.0 306.4 L387.2 306.7 L391.4 307.0" fill="none" stroke-width="1.4"/>
<path d="M78.7 102.2a3.3 3.3 0 1 0 6.6 0a3.3 3.3 0 1 0 -6.6 0zM80.8 106.4a3.3 3.3 0 1 0 6.6 0a3.3 3.3 0 1 0 -6.6 0zM82.9 112.3a3.3 3.3 0 1 0 6.6 0a3.3 3.3 0 1 0 -6.6 0zM85.0 119.3a3.3 3.3 0 1 0 6.6 0a3.3 3.3 0 1 0 -6.6 0zM87.1 127.0a3.3 3.3 0 1 0 6.6 0a3.3 3.3 0 1 0 -6.6 0zM89.2 135.0a3.3 3.3 0 1 0 6.6 0a3.3 3.3 0 1 0 -6.6 0zM91.3 143.0a3.3 3.3 0 1 0 6.6 0a3.3 3.3 0 1 0 -6.6 0zM93.4 151.0a3.3 3.3 0 1 0 6.6 0a3.3 3.3 0 1 0 -6.6 0zM95.5 158.7a3.3 3.3 0 1 0 6.6 0a3.3 3.3 0 1 0 -6.6 0zM97.6 166.1a3.3 3.3 0 1 0 6.6 0a3.3 3.3 0 1 0 -6.6 0zM99.8 173.1a3.3 3.3 0 1 0 6.6 0a3.3 3.3 0 1 0 -6.6 0zM101.9 179.7a3.3 3.3 0 1 0 6.6 0a3.3 3.3 0 1 0 -6.6 0zM104.0 185.9a3.3 3.3 0 1 0 6.6 0a3.3 3.3 0 1 0 -6.6 0zM106.1 191.7a3.3 3.3 0 1 0 6.6 0a3.3 3.3 0 1 0 -6.6 0zM108.2 197.1a3.3 3.3 0 1 0 6.6 0a3.3 3.3 0 1 0 -6.6 0zM110.3 202.2a3.3 3.3 0 1 0 6.6 0a3.3 3.3 0 1 0 -6.6 0zM114.5 211.3a3.3 3.3 0 1 0 6.6 0a3.3 3.3 0 1 0 -6.6 0zM118.7 219.3a3.3 3.3 0 1 0 6.6 0a3.3 3.3 0 1 0 -6.6 0zM122.9 226.4a3.3 3.3 0 1 0 6.6 0a3.3 3.3 0 1 0 -6.6 0zM127.1 232.8a3.3 3.3 0 1 0 6.6 0a3.3 3.3 0 1 0 -6.6 0zM131.3 238.5a3.3 3.3 0 1 0 6.6 0a3.3 3.3 0 1 0 -6.6 0zM135.5 243.7a3.3 3.3 0 1 0 6.6 0a3.3 3.3 0 1 0 -6.6 0zM139.7 248.3a3.3 3.3 0 1 0 6.6 0a3.3 3.3 0 1 0 -6.6 0zM143.9 252.5a3.3 3.3 0 1 0 6.6 0a3.3 3.3 0 1 0 -6.6 0zM148.2 256.3a3.3 3.3 0 1 0 6.6 0a3.3 3.3 0 1 0 -6.6 0zM152.4 259.6a3.3 3.3 0 1 0 6.6 0a3.3 3.3 0 1 0 -6.6 0zM156.6 262.7a3.3 3.3 0 1 0 6.6 0a3.3 3.3 0 1 0 -6.6 0zM160.8 265.4a3.3 3.3 0 1 0 6.6 0a3.3 3.3 0 1 0 -6.6 0zM165.0 267.9a3.3 3.3 0 1 0 6.6 0a3.3 3.3 0 1 0 -6.6 0zM169.2 270.1a3.3 3.3 0 1 0 6.6 0a3.3 3.3 0 1 0 -6.6 0zM173.4 272.1a3.3 3.3 0 1 0 6.6 0a3.3 3.3 0 1 0 -6.6 0zM177.6 273.9a3.3 3.3 0 1 0 6.6 0a3.3 3.3 0 1 0 -6.6 0zM181.8 275.6a3.3 3.3 0 1 0 6.6 0a3.3 3.3 0 1 0 -6.6 0zM186.0 277.2a3.3 3.3 0 1 0 6.6 0a3.3 3.3 0 1 0 -6.6 0zM190.3 278.7a3.3 3.3 0 1 0 6.6 0a3.3 3.3 0 1 0 -6.6 0zM194.5 280.2a3.3 3.3 0 1 0 6.6 0a3.3 3.3 0 1 0 -6.6 0zM198.7 281.5a3.3 3.3 0 1 0 6.6 0a3.3 3.3 0 1 0 -6.6 0zM202.9 282.8a3.3 3.3 0 1 0 6.6 0a3.3 3.3 0 1 0 -6.6 0zM207.1 284.1a3.3 3.3 0 1 0 6.6 0a3.3 3.3 0 1 0 -6.6 0zM211.3 285.2a3.3 3.3 0 1 0 6.6 0a3.3 3.3 0 1 0 -6.6 0zM215.5 286.3a3.3 3.3 0 1 0 6.6 0a3.3 3.3 0 1 0 -6.6 0zM219.7 287.4a3.3 3.3 0 1 0 6.6 0a3.3 3.3 0 1 0 -6.6 0zM223.9 288.4a3.3 3.3 0 1 0 6.6 0a3.3 3.3 0 1 0 -6.6 0zM228.1 289.4a3.3 3.3 0 1 0 6.6 0a3.3 3.3 0 1 0 -6.6 0zM232.3 290.3a3.3 3.3 0 1 0 6.6 0a3.3 3.3 0 1 0 -6.6 0zM236.6 291.2a3.3 3.3 0 1 0 6.6 0a3.3 3.3 0 1 0 -6.6 0zM240.8 292.0a3.3 3.3 0 1 0 6.6 0a3.3 3.3 0 1 0 -6.6 0zM245.0 292.7a3.3 3.3 0 1 0 6.6 0a3.3 3.3 0 1 0 -6.6 0zM249.2 293.4a3.3 3.3 0 1 0 6.6 0a3.3 3.3 0 1 0 -6.6 0zM253.4 294.1a3.3 3.3 0 1 0 6.6 0a3.3 3.3 0 1 0 -6.6 0zM257.6 294.7a3.3 3.3 0 1 0 6.6 0a3.3 3.3 0 1 0 -6.6 0zM261.8 295.4a3.3 3.3 0 1 0 6.6 0a3.3 3.3 0 1 0 -6.6 0zM266.0 296.0a3.3 3.3 0 1 0 6.6 0a3.3 3.3 0 1 0 -6.6 0zM270.2 296.5a3.3 3.3 0 1 0 6.6 0a3.3 3.3 0 1 0 -6.6 0zM274.4 297.1a3.3 3.3 0 1 0 6.6 0a3.3 3.3 0 1 0 -6.6 0zM278.6 297.7a3.3 3.3 0 1 0 6.6 0a3.3 3.3 0 1 0 -6.6 0zM282.9 298.2a3.3 3.3 0 1 0 6.6 0a3.3 3.3 0 1 0 -6.6 0zM287.1 298.7a3.3 3.3 0 1 0 6.6 0a3.3 3.3 0 1 0 -6.6 0zM291.3 299.1a3.3 3.3 0 1 0 6.6 0a3.3 3.3 0 1 0 -6.6 0zM295.5 299.5a3.3 3.3 0 1 0 6.6 0a3.3 3.3 0 1 0 -6.6 0zM299.7 299.8a3.3 3.3 0 1 0 6.6 0a3.3 3.3 0 1 0 -6.6 0zM303.9 300.2a3.3 3.3 0 1 0 6.6 0a3.3 3.3 0 1 0 -6.6 0zM308.1 300.5a3.3 3.3 0 1 0 6.6 0a3.3 3.3 0 1 0 -6.6 0zM312.3 300.9a3.3 3.3 0 1 0 6.6 0a3.3 3.3 0 1 0 -6.6 0zM316.5 301.2a3.3 3.3 0 1 0 6.6 0a3.3 3.3 0 1 0 -6.6 0zM320.7 301.5a3.3 3.3 0 1 0 6.6 0a3.3 3.3 0 1 0 -6.6 0zM325.0 301.8a3.3 3.3 0 1 0 6.6 0a3.3 3.3 0 1 0 -6.6 0zM329.2 302.1a3.3 3.3 0 1 0 6.6 0a3.3 3.3 0 1 0 -6.6 0zM333.4 302.4a3.3 3.3 0 1 0 6.6 0a3.3 3.3 0 1 0 -6.6 0zM337.6 302.7a3.3 3.3 0 1 0 6.6 0a3.3 3.3 0 1 0 -6.6 0zM341.8 303.1a3.3 3.3 0 1 0 6.6 0a3.3 3.3 0 1 0 -6.6 0zM346.0 303.5a3.3 3.3 0 1 0 6.6 0a3.3 3.3 0 1 0 -6.6 0zM350.2 303.9a3.3 3.3 0 1 0 6.6 0a3.3 3.3 0 1 0 -6.6 0zM354.4 304.2a3.3 3.3 0 1 0 6.6 0a3.3 3.3 0 1 0 -6.6 0zM358.6 304.6a3.3 3.3 0 1 0 6.6 0a3.3 3.3 0 1 0 -6.6 0zM362.8 305.0a3.3 3.3 0 1 0 6.6 0a3.3 3.3 0 1 0 -6.6 0zM367.0 305.3a3.3 3.3 0 1 0 6.6 0a3.3 3.3 0 1 0 -6.6 0zM371.3 305.7a3.3 3.3 0 1 0 6.6 0a3.3 3.3 0 1 0 -6.6 0zM375.5 306.0a3.3 3.3 0 1 0 6.6 0a3.3 3.3 0 1 0 -6.6 0zM379.7 306.4a3.3 3.3 0 1 0 6.6 0a3.3 3.3 0 1 0 -6.6 0zM383.9 306.7a3.3 3.3 0 1 0 6.6 0a3.3 3.3 0 1 0 -6.6 0zM388.1 307.0a3.3 3.3 0 1 0 6.6 0a3.3 3.3 0 1 0 -6.6 0z" stroke="none"/></g>
<g fill="#009a20" stroke="#009a20"><path d="M82.0 82.0 L84.1 85.0 L86.2 88.7 L88.3 95.1 L90.4 103.9 L92.5 112.6 L94.6 120.7 L96.7 128.5 L98.8 136.1 L100.9 143.5 L103.1 150.6 L105.2 157.4 L107.3 163.8 L109.4 169.8 L111.5 175.5 L115.7 186.0 L119.9 195.5 L124.1 204.0 L128.3 211.6 L132.5 218.6 L136.7 225.1 L140.9 231.3 L145.1 236.7 L149.4 241.5 L153.6 245.7 L157.8 249.4 L162.0 252.7 L166.2 255.6 L170.4 258.2 L174.6 260.6 L178.8 262.7 L183.0 264.7 L187.2 266.5 L191.4 268.2 L195.7 269.9 L199.9 271.5 L204.1 273.1 L208.3 274.5 L212.5 276.0 L216.7 277.3 L220.9 278.6 L225.1 279.9 L229.3 281.1 L233.5 282.3 L237.8 283.4 L242.0 284.5 L246.2 285.4 L250.4 286.3 L254.6 287.2 L258.8 288.0 L263.0 288.8 L267.2 289.6 L271.4 290.4 L275.6 291.1 L279.8 291.8 L284.1 292.5 L288.3 293.2 L292.5 293.7 L296.7 294.3 L300.9 294.8 L305.1 295.3 L309.3 295.8 L313.5 296.2 L317.7 296.7 L321.9 297.1 L326.1 297.5 L330.4 297.9 L334.6 298.3 L338.8 298.6 L343.0 299.0 L347.2 299.4 L351.4 299.8 L355.6 300.2 L359.8 300.5 L364.0 300.9 L368.2 301.2 L372.4 301.5 L376.7 301.8 L380.9 302.0 L385.1 302.3 L389.3 302.5 L393.5 302.8" fill="none" stroke-width="1.4"/>
<path d="M78.7 82.0a3.3 3.3 0 1 0 6.6 0a3.3 3.3 0 1 0 -6.6 0zM80.8 85.0a3.3 3.3 0 1 0 6.6 0a3.3 3.3 0 1 0 -6.6 0zM82.9 88.7a3.3 3.3 0 1 0 6.6 0a3.3 3.3 0 1 0 -6.6 0zM85.0 95.1a3.3 3.3 0 1 0 6.6 0a3.3 3.3 0 1 0 -6.6 0zM87.1 103.9a3.3 3.3 0 1 0 6.6 0a3.3 3.3 0 1 0 -6.6 0zM89.2 112.6a3.3 3.3 0 1 0 6.6 0a3.3 3.3 0 1 0 -6.6 0zM91.3 120.7a3.3 3.3 0 1 0 6.6 0a3.3 3.3 0 1 0 -6.6 0zM93.4 128.5a3.3 3.3 0 1 0 6.6 0a3.3 3.3 0 1 0 -6.6 0zM95.5 136.1a3.3 3.3 0 1 0 6.6 0a3.3 3.3 0 1 0 -6.6 0zM97.6 143.5a3.3 3.3 0 1 0 6.6 0a3.3 3.3 0 1 0 -6.6 0zM99.8 150.6a3.3 3.3 0 1 0 6.6 0a3.3 3.3 0 1 0 -6.6 0zM101.9 157.4a3.3 3.3 0 1 0 6.6 0a3.3 3.3 0 1 0 -6.6 0zM104.0 163.8a3.3 3.3 0 1 0 6.6 0a3.3 3.3 0 1 0 -6.6 0zM106.1 169.8a3.3 3.3 0 1 0 6.6 0a3.3 3.3 0 1 0 -6.6 0zM108.2 175.5a3.3 3.3 0 1 0 6.6 0a3.3 3.3 0 1 0 -6.6 0zM112.4 186.0a3.3 3.3 0 1 0 6.6 0a3.3 3.3 0 1 0 -6.6 0zM116.6 195.5a3.3 3.3 0 1 0 6.6 0a3.3 3.3 0 1 0 -6.6 0zM120.8 204.0a3.3 3.3 0 1 0 6.6 0a3.3 3.3 0 1 0 -6.6 0zM125.0 211.6a3.3 3.3 0 1 0 6.6 0a3.3 3.3 0 1 0 -6.6 0zM129.2 218.6a3.3 3.3 0 1 0 6.6 0a3.3 3.3 0 1 0 -6.6 0zM133.4 225.1a3.3 3.3 0 1 0 6.6 0a3.3 3.3 0 1 0 -6.6 0zM137.6 231.3a3.3 3.3 0 1 0 6.6 0a3.3 3.3 0 1 0 -6.6 0zM141.8 236.7a3.3 3.3 0 1 0 6.6 0a3.3 3.3 0 1 0 -6.6 0zM146.1 241.5a3.3 3.3 0 1 0 6.6 0a3.3 3.3 0 1 0 -6.6 0zM150.3 245.7a3.3 3.3 0 1 0 6.6 0a3.3 3.3 0 1 0 -6.6 0zM154.5 249.4a3.3 3.3 0 1 0 6.6 0a3.3 3.3 0 1 0 -6.6 0zM158.7 252.7a3.3 3.3 0 1 0 6.6 0a3.3 3.3 0 1 0 -6.6 0zM162.9 255.6a3.3 3.3 0 1 0 6.6 0a3.3 3.3 0 1 0 -6.6 0zM167.1 258.2a3.3 3.3 0 1 0 6.6 0a3.3 3.3 0 1 0 -6.6 0zM171.3 260.6a3.3 3.3 0 1 0 6.6 0a3.3 3.3 0 1 0 -6.6 0zM175.5 262.7a3.3 3.3 0 1 0 6.6 0a3.3 3.3 0 1 0 -6.6 0zM179.7 264.7a3.3 3.3 0 1 0 6.6 0a3.3 3.3 0 1 0 -6.6 0zM183.9 266.5a3.3 3.3 0 1 0 6.6 0a3.3 3.3 0 1 0 -6.6 0zM188.1 268.2a3.3 3.3 0 1 0 6.6 0a3.3 3.3 0 1 0 -6.6 0zM192.4 269.9a3.3 3.3 0 1 0 6.6 0a3.3 3.3 0 1 0 -6.6 0zM196.6 271.5a3.3 3.3 0 1 0 6.6 0a3.3 3.3 0 1 0 -6.6 0zM200.8 273.1a3.3 3.3 0 1 0 6.6 0a3.3 3.3 0 1 0 -6.6 0zM205.0 274.5a3.3 3.3 0 1 0 6.6 0a3.3 3.3 0 1 0 -6.6 0zM209.2 276.0a3.3 3.3 0 1 0 6.6 0a3.3 3.3 0 1 0 -6.6 0zM213.4 277.3a3.3 3.3 0 1 0 6.6 0a3.3 3.3 0 1 0 -6.6 0zM217.6 278.6a3.3 3.3 0 1 0 6.6 0a3.3 3.3 0 1 0 -6.6 0zM221.8 279.9a3.3 3.3 0 1 0 6.6 0a3.3 3.3 0 1 0 -6.6 0zM226.0 281.1a3.3 3.3 0 1 0 6.6 0a3.3 3.3 0 1 0 -6.6 0zM230.2 282.3a3.3 3.3 0 1 0 6.6 0a3.3 3.3 0 1 0 -6.6 0zM234.5 283.4a3.3 3.3 0 1 0 6.6 0a3.3 3.3 0 1 0 -6.6 0zM238.7 284.5a3.3 3.3 0 1 0 6.6 0a3.3 3.3 0 1 0 -6.6 0zM242.9 285.4a3.3 3.3 0 1 0 6.6 0a3.3 3.3 0 1 0 -6.6 0zM247.1 286.3a3.3 3.3 0 1 0 6.6 0a3.3 3.3 0 1 0 -6.6 0zM251.3 287.2a3.3 3.3 0 1 0 6.6 0a3.3 3.3 0 1 0 -6.6 0zM255.5 288.0a3.3 3.3 0 1 0 6.6 0a3.3 3.3 0 1 0 -6.6 0zM259.7 288.8a3.3 3.3 0 1 0 6.6 0a3.3 3.3 0 1 0 -6.6 0zM263.9 289.6a3.3 3.3 0 1 0 6.6 0a3.3 3.3 0 1 0 -6.6 0zM268.1 290.4a3.3 3.3 0 1 0 6.6 0a3.3 3.3 0 1 0 -6.6 0zM272.3 291.1a3.3 3.3 0 1 0 6.6 0a3.3 3.3 0 1 0 -6.6 0zM276.5 291.8a3.3 3.3 0 1 0 6.6 0a3.3 3.3 0 1 0 -6.6 0zM280.8 292.5a3.3 3.3 0 1 0 6.6 0a3.3 3.3 0 1 0 -6.6 0zM285.0 293.2a3.3 3.3 0 1 0 6.6 0a3.3 3.3 0 1 0 -6.6 0zM289.2 293.7a3.3 3.3 0 1 0 6.6 0a3.3 3.3 0 1 0 -6.6 0zM293.4 294.3a3.3 3.3 0 1 0 6.6 0a3.3 3.3 0 1 0 -6.6 0zM297.6 294.8a3.3 3.3 0 1 0 6.6 0a3.3 3.3 0 1 0 -6.6 0zM301.8 295.3a3.3 3.3 0 1 0 6.6 0a3.3 3.3 0 1 0 -6.6 0zM306.0 295.8a3.3 3.3 0 1 0 6.6 0a3.3 3.3 0 1 0 -6.6 0zM310.2 296.2a3.3 3.3 0 1 0 6.6 0a3.3 3.3 0 1 0 -6.6 0zM314.4 296.7a3.3 3.3 0 1 0 6.6 0a3.3 3.3 0 1 0 -6.6 0zM318.6 297.1a3.3 3.3 0 1 0 6.6 0a3.3 3.3 0 1 0 -6.6 0zM322.8 297.5a3.3 3.3 0 1 0 6.6 0a3.3 3.3 0 1 0 -6.6 0zM327.1 297.9a3.3 3.3 0 1 0 6.6 0a3.3 3.3 0 1 0 -6.6 0zM331.3 298.3a3.3 3.3 0 1 0 6.6 0a3.3 3.3 0 1 0 -6.6 0zM335.5 298.6a3.3 3.3 0 1 0 6.6 0a3.3 3.3 0 1 0 -6.6 0zM339.7 299.0a3.3 3.3 0 1 0 6.6 0a3.3 3.3 0 1 0 -6.6 0zM343.9 299.4a3.3 3.3 0 1 0 6.6 0a3.3 3.3 0 1 0 -6.6 0zM348.1 299.8a3.3 3.3 0 1 0 6.6 0a3.3 3.3 0 1 0 -6.6 0zM352.3 300.2a3.3 3.3 0 1 0 6.6 0a3.3 3.3 0 1 0 -6.6 0zM356.5 300.5a3.3 3.3 0 1 0 6.6 0a3.3 3.3 0 1 0 -6.6 0zM360.7 300.9a3.3 3.3 0 1 0 6.6 0a3.3 3.3 0 1 0 -6.6 0zM364.9 301.2a3.3 3.3 0 1 0 6.6 0a3.3 3.3 0 1 0 -6.6 0zM369.1 301.5a3.3 3.3 0 1 0 6.6 0a3.3 3.3 0 1 0 -6.6 0zM373.4 301.8a3.3 3.3 0 1 0 6.6 0a3.3 3.3 0 1 0 -6.6 0zM377.6 302.0a3.3 3.3 0 1 0 6.6 0a3.3 3.3 0 1 0 -6.6 0zM381.8 302.3a3.3 3.3 0 1 0 6.6 0a3.3 3.3 0 1 0 -6.6 0zM386.0 302.5a3.3 3.3 0 1 0 6.6 0a3.3 3.3 0 1 0 -6.6 0zM390.2 302.8a3.3 3.3 0 1 0 6.6 0a3.3 3.3 0 1 0 -6.6 0z" stroke="none"/></g>
<g fill="#40c0ff" stroke="#40c0ff"><path d="M82.0 52.5 L84.1 55.6 L86.2 59.9 L88.3 64.9 L90.4 70.1 L92.5 75.4 L94.6 80.8 L96.7 86.3 L98.8 92.0 L100.9 97.9 L103.1 103.9 L105.2 110.1 L107.3 116.3 L109.4 122.5 L111.5 128.6 L113.6 134.6 L117.8 146.6 L122.0 158.0 L126.2 168.0 L130.4 176.8 L134.6 184.7 L138.8 192.0 L143.0 198.9 L147.2 205.4 L151.5 211.5 L155.7 217.1 L159.9 222.2 L164.1 226.8 L168.3 231.0 L172.5 234.8 L176.7 238.2 L180.9 241.4 L185.1 244.3 L189.3 247.0 L193.6 249.5 L197.8 251.9 L202.0 254.2 L206.2 256.3 L210.4 258.2 L214.6 260.1 L218.8 261.8 L223.0 263.5 L227.2 265.0 L231.4 266.5 L235.6 268.0 L239.9 269.3 L244.1 270.5 L248.3 271.7 L252.5 272.7 L256.7 273.8 L260.9 274.8 L265.1 275.8 L269.3 276.7 L273.5 277.6 L277.7 278.5 L281.9 279.4 L286.2 280.2 L290.4 281.0 L294.6 281.8 L298.8 282.5 L303.0 283.1 L307.2 283.8 L311.4 284.4 L315.6 285.1 L319.8 285.7 L324.0 286.2 L328.3 286.8 L332.5 287.3 L336.7 287.8 L340.9 288.4 L345.1 288.9 L349.3 289.4 L353.5 289.9 L357.7 290.4 L361.9 290.8 L366.1 291.3 L370.3 291.7 L374.6 292.0 L378.8 292.4 L383.0 292.7 L387.2 293.0 L391.4 293.3" fill="none" stroke-width="1.4"/>
<path d="M78.7 52.5a3.3 3.3 0 1 0 6.6 0a3.3 3.3 0 1 0 -6.6 0zM80.8 55.6a3.3 3.3 0 1 0 6.6 0a3.3 3.3 0 1 0 -6.6 0zM82.9 59.9a3.3 3.3 0 1 0 6.6 0a3.3 3.3 0 1 0 -6.6 0zM85.0 64.9a3.3 3.3 0 1 0 6.6 0a3.3 3.3 0 1 0 -6.6 0zM87.1 70.1a3.3 3.3 0 1 0 6.6 0a3.3 3.3 0 1 0 -6.6 0zM89.2 75.4a3.3 3.3 0 1 0 6.6 0a3.3 3.3 0 1 0 -6.6 0zM91.3 80.8a3.3 3.3 0 1 0 6.6 0a3.3 3.3 0 1 0 -6.6 0zM93.4 86.3a3.3 3.3 0 1 0 6.6 0a3.3 3.3 0 1 0 -6.6 0zM95.5 92.0a3.3 3.3 0 1 0 6.6 0a3.3 3.3 0 1 0 -6.6 0zM97.6 97.9a3.3 3.3 0 1 0 6.6 0a3.3 3.3 0 1 0 -6.6 0zM99.8 103.9a3.3 3.3 0 1 0 6.6 0a3.3 3.3 0 1 0 -6.6 0zM101.9 110.1a3.3 3.3 0 1 0 6.6 0a3.3 3.3 0 1 0 -6.6 0zM104.0 116.3a3.3 3.3 0 1 0 6.6 0a3.3 3.3 0 1 0 -6.6 0zM106.1 122.5a3.3 3.3 0 1 0 6.6 0a3.3 3.3 0 1 0 -6.6 0zM108.2 128.6a3.3 3.3 0 1 0 6.6 0a3.3 3.3 0 1 0 -6.6 0zM110.3 134.6a3.3 3.3 0 1 0 6.6 0a3.3 3.3 0 1 0 -6.6 0zM114.5 146.6a3.3 3.3 0 1 0 6.6 0a3.3 3.3 0 1 0 -6.6 0zM118.7 158.0a3.3 3.3 0 1 0 6.6 0a3.3 3.3 0 1 0 -6.6 0zM122.9 168.0a3.3 3.3 0 1 0 6.6 0a3.3 3.3 0 1 0 -6.6 0zM127.1 176.8a3.3 3.3 0 1 0 6.6 0a3.3 3.3 0 1 0 -6.6 0zM131.3 184.7a3.3 3.3 0 1 0 6.6 0a3.3 3.3 0 1 0 -6.6 0zM135.5 192.0a3.3 3.3 0 1 0 6.6 0a3.3 3.3 0 1 0 -6.6 0zM139.7 198.9a3.3 3.3 0 1 0 6.6 0a3.3 3.3 0 1 0 -6.6 0zM143.9 205.4a3.3 3.3 0 1 0 6.6 0a3.3 3.3 0 1 0 -6.6 0zM148.2 211.5a3.3 3.3 0 1 0 6.6 0a3.3 3.3 0 1 0 -6.6 0zM152.4 217.1a3.3 3.3 0 1 0 6.6 0a3.3 3.3 0 1 0 -6.6 0zM156.6 222.2a3.3 3.3 0 1 0 6.6 0a3.3 3.3 0 1 0 -6.6 0zM160.8 226.8a3.3 3.3 0 1 0 6.6 0a3.3 3.3 0 1 0 -6.6 0zM165.0 231.0a3.3 3.3 0 1 0 6.6 0a3.3 3.3 0 1 0 -6.6 0zM169.2 234.8a3.3 3.3 0 1 0 6.6 0a3.3 3.3 0 1 0 -6.6 0zM173.4 238.2a3.3 3.3 0 1 0 6.6 0a3.3 3.3 0 1 0 -6.6 0zM177.6 241.4a3.3 3.3 0 1 0 6.6 0a3.3 3.3 0 1 0 -6.6 0zM181.8 244.3a3.3 3.3 0 1 0 6.6 0a3.3 3.3 0 1 0 -6.6 0zM186.0 247.0a3.3 3.3 0 1 0 6.6 0a3.3 3.3 0 1 0 -6.6 0zM190.3 249.5a3.3 3.3 0 1 0 6.6 0a3.3 3.3 0 1 0 -6.6 0zM194.5 251.9a3.3 3.3 0 1 0 6.6 0a3.3 3.3 0 1 0 -6.6 0zM198.7 254.2a3.3 3.3 0 1 0 6.6 0a3.3 3.3 0 1 0 -6.6 0zM202.9 256.3a3.3 3.3 0 1 0 6.6 0a3.3 3.3 0 1 0 -6.6 0zM207.1 258.2a3.3 3.3 0 1 0 6.6 0a3.3 3.3 0 1 0 -6.6 0zM211.3 260.1a3.3 3.3 0 1 0 6.6 0a3.3 3.3 0 1 0 -6.6 0zM215.5 261.8a3.3 3.3 0 1 0 6.6 0a3.3 3.3 0 1 0 -6.6 0zM219.7 263.5a3.3 3.3 0 1 0 6.6 0a3.3 3.3 0 1 0 -6.6 0zM223.9 265.0a3.3 3.3 0 1 0 6.6 0a3.3 3.3 0 1 0 -6.6 0zM228.1 266.5a3.3 3.3 0 1 0 6.6 0a3.3 3.3 0 1 0 -6.6 0zM232.3 268.0a3.3 3.3 0 1 0 6.6 0a3.3 3.3 0 1 0 -6.6 0zM236.6 269.3a3.3 3.3 0 1 0 6.6 0a3.3 3.3 0 1 0 -6.6 0zM240.8 270.5a3.3 3.3 0 1 0 6.6 0a3.3 3.3 0 1 0 -6.6 0zM245.0 271.7a3.3 3.3 0 1 0 6.6 0a3.3 3.3 0 1 0 -6.6 0zM249.2 272.7a3.3 3.3 0 1 0 6.6 0a3.3 3.3 0 1 0 -6.6 0zM253.4 273.8a3.3 3.3 0 1 0 6.6 0a3.3 3.3 0 1 0 -6.6 0zM257.6 274.8a3.3 3.3 0 1 0 6.6 0a3.3 3.3 0 1 0 -6.6 0zM261.8 275.8a3.3 3.3 0 1 0 6.6 0a3.3 3.3 0 1 0 -6.6 0zM266.0 276.7a3.3 3.3 0 1 0 6.6 0a3.3 3.3 0 1 0 -6.6 0zM270.2 277.6a3.3 3.3 0 1 0 6.6 0a3.3 3.3 0 1 0 -6.6 0zM274.4 278.5a3.3 3.3 0 1 0 6.6 0a3.3 3.3 0 1 0 -6.6 0zM278.6 279.4a3.3 3.3 0 1 0 6.6 0a3.3 3.3 0 1 0 -6.6 0zM282.9 280.2a3.3 3.3 0 1 0 6.6 0a3.3 3.3 0 1 0 -6.6 0zM287.1 281.0a3.3 3.3 0 1 0 6.6 0a3.3 3.3 0 1 0 -6.6 0zM291.3 281.8a3.3 3.3 0 1 0 6.6 0a3.3 3.3 0 1 0 -6.6 0zM295.5 282.5a3.3 3.3 0 1 0 6.6 0a3.3 3.3 0 1 0 -6.6 0zM299.7 283.1a3.3 3.3 0 1 0 6.6 0a3.3 3.3 0 1 0 -6.6 0zM303.9 283.8a3.3 3.3 0 1 0 6.6 0a3.3 3.3 0 1 0 -6.6 0zM308.1 284.4a3.3 3.3 0 1 0 6.6 0a3.3 3.3 0 1 0 -6.6 0zM312.3 285.1a3.3 3.3 0 1 0 6.6 0a3.3 3.3 0 1 0 -6.6 0zM316.5 285.7a3.3 3.3 0 1 0 6.6 0a3.3 3.3 0 1 0 -6.6 0zM320.7 286.2a3.3 3.3 0 1 0 6.6 0a3.3 3.3 0 1 0 -6.6 0zM325.0 286.8a3.3 3.3 0 1 0 6.6 0a3.3 3.3 0 1 0 -6.6 0zM329.2 287.3a3.3 3.3 0 1 0 6.6 0a3.3 3.3 0 1 0 -6.6 0zM333.4 287.8a3.3 3.3 0 1 0 6.6 0a3.3 3.3 0 1 0 -6.6 0zM337.6 288.4a3.3 3.3 0 1 0 6.6 0a3.3 3.3 0 1 0 -6.6 0zM341.8 288.9a3.3 3.3 0 1 0 6.6 0a3.3 3.3 0 1 0 -6.6 0zM346.0 289.4a3.3 3.3 0 1 0 6.6 0a3.3 3.3 0 1 0 -6.6 0zM350.2 289.9a3.3 3.3 0 1 0 6.6 0a3.3 3.3 0 1 0 -6.6 0zM354.4 290.4a3.3 3.3 0 1 0 6.6 0a3.3 3.3 0 1 0 -6.6 0zM358.6 290.8a3.3 3.3 0 1 0 6.6 0a3.3 3.3 0 1 0 -6.6 0zM362.8 291.3a3.3 3.3 0 1 0 6.6 0a3.3 3.3 0 1 0 -6.6 0zM367.0 291.7a3.3 3.3 0 1 0 6.6 0a3.3 3.3 0 1 0 -6.6 0zM371.3 292.0a3.3 3.3 0 1 0 6.6 0a3.3 3.3 0 1 0 -6.6 0zM375.5 292.4a3.3 3.3 0 1 0 6.6 0a3.3 3.3 0 1 0 -6.6 0zM379.7 292.7a3.3 3.3 0 1 0 6.6 0a3.3 3.3 0 1 0 -6.6 0zM383.9 293.0a3.3 3.3 0 1 0 6.6 0a3.3 3.3 0 1 0 -6.6 0zM388.1 293.3a3.3 3.3 0 1 0 6.6 0a3.3 3.3 0 1 0 -6.6 0z" stroke="none"/></g>
<g fill="#ff40d0" stroke="#ff40d0"><path d="M82.0 50.5 L84.1 51.3 L86.2 52.9 L88.3 55.4 L90.4 58.5 L92.5 62.1 L94.6 66.2 L96.7 70.8 L98.8 75.6 L100.9 80.9 L103.1 86.2 L105.2 91.0 L107.3 96.3 L109.4 102.2 L111.5 108.3 L113.6 114.3 L117.8 125.9 L122.0 136.7 L126.2 146.6 L130.4 155.8 L134.6 164.2 L138.8 172.2 L143.0 179.5 L147.2 186.3 L151.5 192.4 L155.7 198.1 L159.9 203.2 L164.1 208.1 L168.3 212.5 L172.5 216.5 L176.7 220.2 L180.9 223.7 L185.1 227.1 L189.3 230.3 L193.6 233.6 L197.8 236.9 L202.0 240.0 L206.2 243.0 L210.4 245.7 L214.6 248.0 L218.8 250.1 L223.0 252.0 L227.2 253.7 L231.4 255.4 L235.6 257.0 L239.9 258.5 L244.1 260.0 L248.3 261.4 L252.5 262.8 L256.7 264.1 L260.9 265.4 L265.1 266.6 L269.3 267.8 L273.5 268.9 L277.7 270.0 L281.9 271.1 L286.2 272.1 L290.4 273.0 L294.6 273.9 L298.8 274.8 L303.0 275.7 L307.2 276.5 L311.4 277.3 L315.6 278.0 L319.8 278.7 L324.0 279.4 L328.3 280.1 L332.5 280.8 L336.7 281.4 L340.9 282.0 L345.1 282.6 L349.3 283.2 L353.5 283.8 L357.7 284.3 L361.9 284.8 L366.1 285.4 L370.3 285.9 L374.6 286.4 L378.8 286.8 L383.0 287.3 L387.2 287.8 L391.4 288.2" fill="none" stroke-width="1.4"/>
<path d="M78.7 50.5a3.3 3.3 0 1 0 6.6 0a3.3 3.3 0 1 0 -6.6 0zM80.8 51.3a3.3 3.3 0 1 0 6.6 0a3.3 3.3 0 1 0 -6.6 0zM82.9 52.9a3.3 3.3 0 1 0 6.6 0a3.3 3.3 0 1 0 -6.6 0zM85.0 55.4a3.3 3.3 0 1 0 6.6 0a3.3 3.3 0 1 0 -6.6 0zM87.1 58.5a3.3 3.3 0 1 0 6.6 0a3.3 3.3 0 1 0 -6.6 0zM89.2 62.1a3.3 3.3 0 1 0 6.6 0a3.3 3.3 0 1 0 -6.6 0zM91.3 66.2a3.3 3.3 0 1 0 6.6 0a3.3 3.3 0 1 0 -6.6 0zM93.4 70.8a3.3 3.3 0 1 0 6.6 0a3.3 3.3 0 1 0 -6.6 0zM95.5 75.6a3.3 3.3 0 1 0 6.6 0a3.3 3.3 0 1 0 -6.6 0zM97.6 80.9a3.3 3.3 0 1 0 6.6 0a3.3 3.3 0 1 0 -6.6 0zM99.8 86.2a3.3 3.3 0 1 0 6.6 0a3.3 3.3 0 1 0 -6.6 0zM101.9 91.0a3.3 3.3 0 1 0 6.6 0a3.3 3.3 0 1 0 -6.6 0zM104.0 96.3a3.3 3.3 0 1 0 6.6 0a3.3 3.3 0 1 0 -6.6 0zM106.1 102.2a3.3 3.3 0 1 0 6.6 0a3.3 3.3 0 1 0 -6.6 0zM108.2 108.3a3.3 3.3 0 1 0 6.6 0a3.3 3.3 0 1 0 -6.6 0zM110.3 114.3a3.3 3.3 0 1 0 6.6 0a3.3 3.3 0 1 0 -6.6 0zM114.5 125.9a3.3 3.3 0 1 0 6.6 0a3.3 3.3 0 1 0 -6.6 0zM118.7 136.7a3.3 3.3 0 1 0 6.6 0a3.3 3.3 0 1 0 -6.6 0zM122.9 146.6a3.3 3.3 0 1 0 6.6 0a3.3 3.3 0 1 0 -6.6 0zM127.1 155.8a3.3 3.3 0 1 0 6.6 0a3.3 3.3 0 1 0 -6.6 0zM131.3 164.2a3.3 3.3 0 1 0 6.6 0a3.3 3.3 0 1 0 -6.6 0zM135.5 172.2a3.3 3.3 0 1 0 6.6 0a3.3 3.3 0 1 0 -6.6 0zM139.7 179.5a3.3 3.3 0 1 0 6.6 0a3.3 3.3 0 1 0 -6.6 0zM143.9 186.3a3.3 3.3 0 1 0 6.6 0a3.3 3.3 0 1 0 -6.6 0zM148.2 192.4a3.3 3.3 0 1 0 6.6 0a3.3 3.3 0 1 0 -6.6 0zM152.4 198.1a3.3 3.3 0 1 0 6.6 0a3.3 3.3 0 1 0 -6.6 0zM156.6 203.2a3.3 3.3 0 1 0 6.6 0a3.3 3.3 0 1 0 -6.6 0zM160.8 208.1a3.3 3.3 0 1 0 6.6 0a3.3 3.3 0 1 0 -6.6 0zM165.0 212.5a3.3 3.3 0 1 0 6.6 0a3.3 3.3 0 1 0 -6.6 0zM169.2 216.5a3.3 3.3 0 1 0 6.6 0a3.3 3.3 0 1 0 -6.6 0zM173.4 220.2a3.3 3.3 0 1 0 6.6 0a3.3 3.3 0 1 0 -6.6 0zM177.6 223.7a3.3 3.3 0 1 0 6.6 0a3.3 3.3 0 1 0 -6.6 0zM181.8 227.1a3.3 3.3 0 1 0 6.6 0a3.3 3.3 0 1 0 -6.6 0zM186.0 230.3a3.3 3.3 0 1 0 6.6 0a3.3 3.3 0 1 0 -6.6 0zM190.3 233.6a3.3 3.3 0 1 0 6.6 0a3.3 3.3 0 1 0 -6.6 0zM194.5 236.9a3.3 3.3 0 1 0 6.6 0a3.3 3.3 0 1 0 -6.6 0zM198.7 240.0a3.3 3.3 0 1 0 6.6 0a3.3 3.3 0 1 0 -6.6 0zM202.9 243.0a3.3 3.3 0 1 0 6.6 0a3.3 3.3 0 1 0 -6.6 0zM207.1 245.7a3.3 3.3 0 1 0 6.6 0a3.3 3.3 0 1 0 -6.6 0zM211.3 248.0a3.3 3.3 0 1 0 6.6 0a3.3 3.3 0 1 0 -6.6 0zM215.5 250.1a3.3 3.3 0 1 0 6.6 0a3.3 3.3 0 1 0 -6.6 0zM219.7 252.0a3.3 3.3 0 1 0 6.6 0a3.3 3.3 0 1 0 -6.6 0zM223.9 253.7a3.3 3.3 0 1 0 6.6 0a3.3 3.3 0 1 0 -6.6 0zM228.1 255.4a3.3 3.3 0 1 0 6.6 0a3.3 3.3 0 1 0 -6.6 0zM232.3 257.0a3.3 3.3 0 1 0 6.6 0a3.3 3.3 0 1 0 -6.6 0zM236.6 258.5a3.3 3.3 0 1 0 6.6 0a3.3 3.3 0 1 0 -6.6 0zM240.8 260.0a3.3 3.3 0 1 0 6.6 0a3.3 3.3 0 1 0 -6.6 0zM245.0 261.4a3.3 3.3 0 1 0 6.6 0a3.3 3.3 0 1 0 -6.6 0zM249.2 262.8a3.3 3.3 0 1 0 6.6 0a3.3 3.3 0 1 0 -6.6 0zM253.4 264.1a3.3 3.3 0 1 0 6.6 0a3.3 3.3 0 1 0 -6.6 0zM257.6 265.4a3.3 3.3 0 1 0 6.6 0a3.3 3.3 0 1 0 -6.6 0zM261.8 266.6a3.3 3.3 0 1 0 6.6 0a3.3 3.3 0 1 0 -6.6 0zM266.0 267.8a3.3 3.3 0 1 0 6.6 0a3.3 3.3 0 1 0 -6.6 0zM270.2 268.9a3.3 3.3 0 1 0 6.6 0a3.3 3.3 0 1 0 -6.6 0zM274.4 270.0a3.3 3.3 0 1 0 6.6 0a3.3 3.3 0 1 0 -6.6 0zM278.6 271.1a3.3 3.3 0 1 0 6.6 0a3.3 3.3 0 1 0 -6.6 0zM282.9 272.1a3.3 3.3 0 1 0 6.6 0a3.3 3.3 0 1 0 -6.6 0zM287.1 273.0a3.3 3.3 0 1 0 6.6 0a3.3 3.3 0 1 0 -6.6 0zM291.3 273.9a3.3 3.3 0 1 0 6.6 0a3.3 3.3 0 1 0 -6.6 0zM295.5 274.8a3.3 3.3 0 1 0 6.6 0a3.3 3.3 0 1 0 -6.6 0zM299.7 275.7a3.3 3.3 0 1 0 6.6 0a3.3 3.3 0 1 0 -6.6 0zM303.9 276.5a3.3 3.3 0 1 0 6.6 0a3.3 3.3 0 1 0 -6.6 0zM308.1 277.3a3.3 3.3 0 1 0 6.6 0a3.3 3.3 0 1 0 -6.6 0zM312.3 278.0a3.3 3.3 0 1 0 6.6 0a3.3 3.3 0 1 0 -6.6 0zM316.5 278.7a3.3 3.3 0 1 0 6.6 0a3.3 3.3 0 1 0 -6.6 0zM320.7 279.4a3.3 3.3 0 1 0 6.6 0a3.3 3.3 0 1 0 -6.6 0zM325.0 280.1a3.3 3.3 0 1 0 6.6 0a3.3 3.3 0 1 0 -6.6 0zM329.2 280.8a3.3 3.3 0 1 0 6.6 0a3.3 3.3 0 1 0 -6.6 0zM333.4 281.4a3.3 3.3 0 1 0 6.6 0a3.3 3.3 0 1 0 -6.6 0zM337.6 282.0a3.3 3.3 0 1 0 6.6 0a3.3 3.3 0 1 0 -6.6 0zM341.8 282.6a3.3 3.3 0 1 0 6.6 0a3.3 3.3 0 1 0 -6.6 0zM346.0 283.2a3.3 3.3 0 1 0 6.6 0a3.3 3.3 0 1 0 -6.6 0zM350.2 283.8a3.3 3.3 0 1 0 6.6 0a3.3 3.3 0 1 0 -6.6 0zM354.4 284.3a3.3 3.3 0 1 0 6.6 0a3.3 3.3 0 1 0 -6.6 0zM358.6 284.8a3.3 3.3 0 1 0 6.6 0a3.3 3.3 0 1 0 -6.6 0zM362.8 285.4a3.3 3.3 0 1 0 6.6 0a3.3 3.3 0 1 0 -6.6 0zM367.0 285.9a3.3 3.3 0 1 0 6.6 0a3.3 3.3 0 1 0 -6.6 0zM371.3 286.4a3.3 3.3 0 1 0 6.6 0a3.3 3.3 0 1 0 -6.6 0zM375.5 286.8a3.3 3.3 0 1 0 6.6 0a3.3 3.3 0 1 0 -6.6 0zM379.7 287.3a3.3 3.3 0 1 0 6.6 0a3.3 3.3 0 1 0 -6.6 0zM383.9 287.8a3.3 3.3 0 1 0 6.6 0a3.3 3.3 0 1 0 -6.6 0zM388.1 288.2a3.3 3.3 0 1 0 6.6 0a3.3 3.3 0 1 0 -6.6 0z" stroke="none"/></g>
<path d="M312.2 320.8 L339.4 268.9 H375.8" fill="none" stroke="#a0ff40" stroke-width="1.5" stroke-linejoin="miter"/>
<path d="M258 305.6 L292.8 243.9 H327.2" fill="none" stroke="#9a6400" stroke-width="1.5" stroke-linejoin="miter"/>
<path d="M162.2 268.5 L209.6 229.3 H244.7" fill="none" stroke="#ff0000" stroke-width="1.5" stroke-linejoin="miter"/>
<path d="M131.7 228.5 L173.1 197.0 H210.7" fill="none" stroke="#0000ff" stroke-width="1.5" stroke-linejoin="miter"/>
<path d="M120.1 195.8 L154.5 168.8 H192.6" fill="none" stroke="#009a20" stroke-width="1.5" stroke-linejoin="miter"/>
<path d="M122.8 157.3 L146.3 138.5 H185.1" fill="none" stroke="#40c0ff" stroke-width="1.5" stroke-linejoin="miter"/>
<path d="M118.4 126.4 L142.2 104.8 H200.6" fill="none" stroke="#ff40d0" stroke-width="1.5" stroke-linejoin="miter"/>
<text transform="translate(230.55 55.9) scale(1.008 1)" font-size="18.5">YMn</text>
<text transform="translate(269.78 62.1) scale(1.032 1)" font-size="13">2+δ</text>
<text transform="translate(290.27 55.9) scale(0.97 1)" font-size="18.5">Zn</text>
<text transform="translate(311.49 62.1) scale(1.026 1)" font-size="13">20−<tspan font-style="italic">x</tspan>−δ</text>
<text transform="translate(352.56 55.9) scale(0.986 1)" font-size="18.5">In</text>
<text transform="translate(368.78 62.1) scale(0.97 1)" font-size="13"><tspan font-style="italic">x</tspan></text>
<text transform="translate(287.15 89.6) scale(1.06 1)" font-size="18.5">μ</text>
<text transform="translate(298.36 95.2) scale(1.06 1)" font-size="13">0</text>
<text transform="translate(306.26 89.6) scale(1.055 1)" font-size="18.5"><tspan font-style="italic">H</tspan></text>
<text transform="translate(325.18 89.6) scale(1.06 1)" font-size="18.5">=</text>
<text transform="translate(340.07 89.6) scale(1.027 1)" font-size="18.5">5</text>
<text transform="translate(354.74 89.6) scale(1.051 1)" font-size="18.5">T</text>
<text transform="translate(142.1 99.3) scale(0.97 1.03)" font-size="19.3"><tspan font-style="italic">x</tspan></text>
<text transform="translate(156.39 99.3) scale(1.011 1.03)" font-size="19.3">=</text>
<text transform="translate(172.89 99.3) scale(1.012 1.03)" font-size="19.3">3.99</text>
<text transform="translate(149.23 131.6) scale(0.971 1.03)" font-size="19.3">3.77</text>
<text transform="translate(154.99 162.2) scale(1.011 1.03)" font-size="19.3">3.46</text>
<text transform="translate(175.61 193.0) scale(0.992 1.03)" font-size="19.3">3.22</text>
<text transform="translate(210.16 221.6) scale(0.988 1.03)" font-size="19.3">2.96</text>
<text transform="translate(292.25 237.7) scale(0.994 1.03)" font-size="19.3">2.36</text>
<text transform="translate(342.15 262.9) scale(1.002 1.03)" font-size="19.3">2.39</text>
<text transform="translate(224.38 371.0) scale(1.06 1)" font-size="18.5"><tspan font-style="italic">T</tspan></text>
<text transform="translate(240.32 371.0) scale(1.033 1)" font-size="18.5">(K)</text>
<g transform="translate(32.0 229.4) rotate(-90)">
<text transform="translate(16.93 0) scale(1.027 1)" font-size="18.5">(cm</text>
<text transform="translate(47.6 -11.5) scale(1.0 1)" font-size="13">3</text>
<text transform="translate(59.2 0) scale(1.004 1)" font-size="18.5">mol</text>
<text transform="translate(89.28 -11.7) scale(0.97 1)" font-size="13">−1</text>
<text transform="translate(103.65 0) scale(1.06 1)" font-size="18.5">)</text>
</g>
<path d="M24.1 219.6L37.0 227.5" stroke="#000" stroke-width="1.9" fill="none"/>
<path d="M33.2 223.0C35.6 222.6 36.6 222.2 37.1 221.3C37.8 219.8 36.4 218.4 34.2 218.5" stroke="#000" stroke-width="1.5" fill="none" stroke-linecap="round"/>
<path d="M33.5 222.9C32.5 223.1 31.5 223.4 30.5 223.6C29.5 223.8 28.5 224.0 27.6 224.2" stroke="#000" stroke-width="1.0" fill="none"/>
<path d="M27.9 224.1C25.6 224.6 24.5 224.9 24.0 225.8C23.3 227.2 24.5 228.3 26.3 228.1" stroke="#000" stroke-width="1.5" fill="none" stroke-linecap="round"/>
<text x="80.0" y="349.3" font-size="18" text-anchor="middle">0</text>
<text x="132.6" y="349.3" font-size="18" text-anchor="middle">50</text>
<text x="185.2" y="349.3" font-size="18" text-anchor="middle">100</text>
<text x="237.9" y="349.3" font-size="18" text-anchor="middle">150</text>
<text x="290.5" y="349.3" font-size="18" text-anchor="middle">200</text>
<text x="343.1" y="349.3" font-size="18" text-anchor="middle">250</text>
<text x="395.7" y="349.3" font-size="18" text-anchor="middle">300</text>
<text x="75.9" y="334.4" font-size="18" text-anchor="end">0.00</text>
<text x="75.9" y="266.0" font-size="18" text-anchor="end">0.02</text>
<text x="75.9" y="197.6" font-size="18" text-anchor="end">0.04</text>
<text x="75.9" y="129.2" font-size="18" text-anchor="end">0.06</text>
<text x="75.9" y="60.8" font-size="18" text-anchor="end">0.08</text>
</svg></body></html>
